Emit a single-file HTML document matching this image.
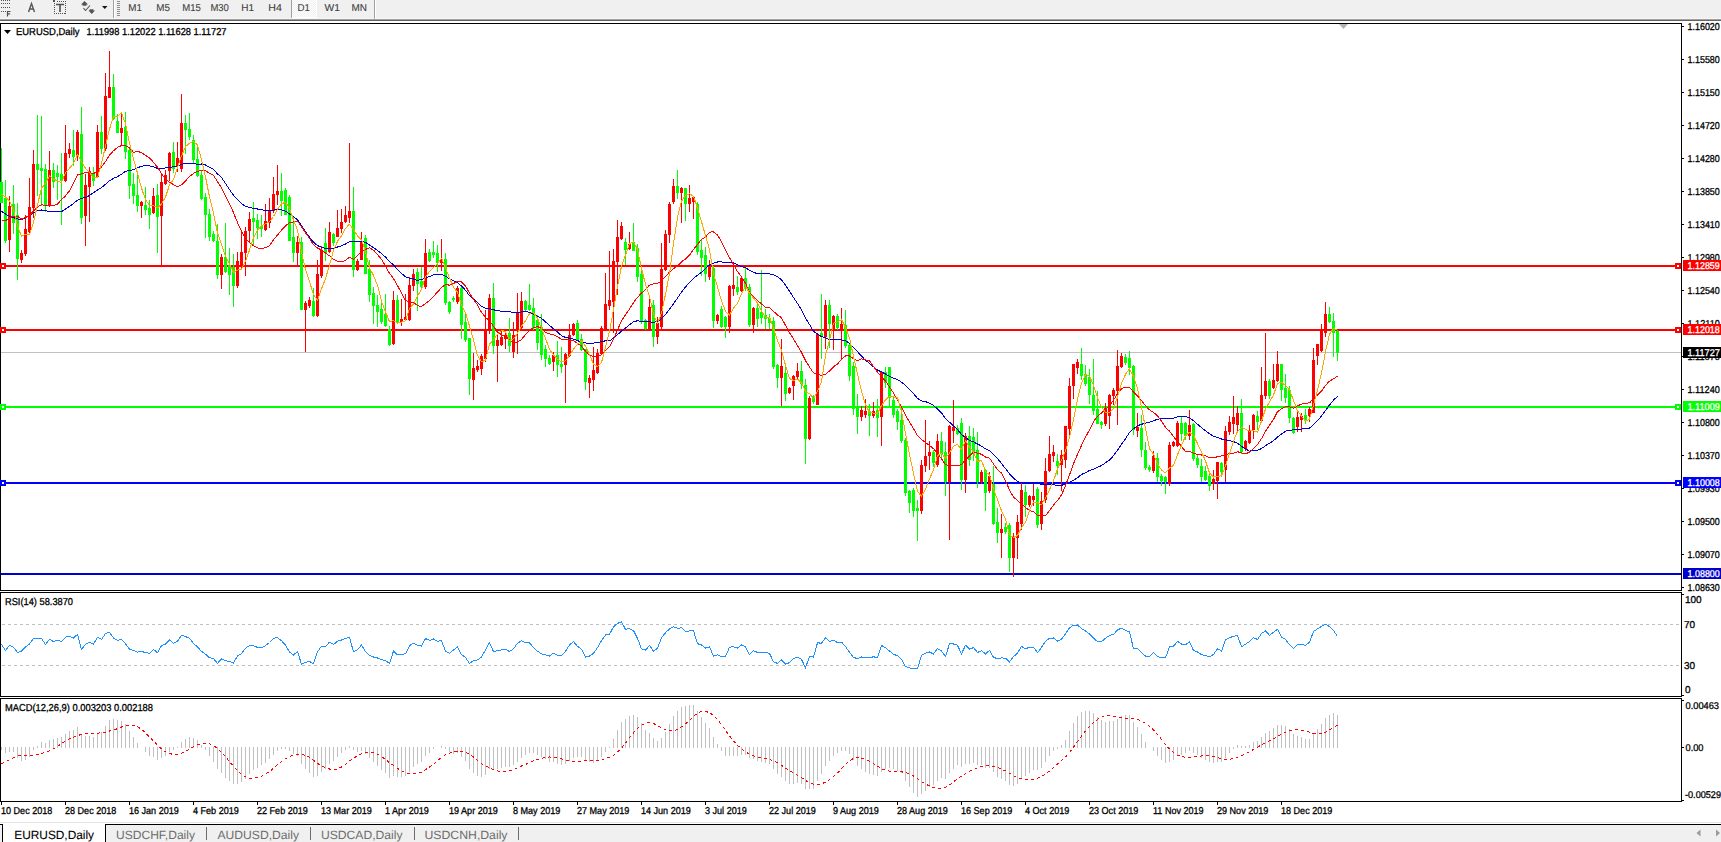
<!DOCTYPE html>
<html><head><meta charset="utf-8"><title>EURUSD,Daily</title>
<style>
html,body{margin:0;padding:0;width:1721px;height:842px;overflow:hidden;background:#fff}
svg{display:block}
text{font-family:"Liberation Sans", sans-serif;text-rendering:geometricPrecision}
</style></head><body>
<svg width="1721" height="842" viewBox="0 0 1721 842">
<rect x="0" y="0" width="1721" height="842" fill="#ffffff" />
<rect x="0" y="0" width="1721" height="18" fill="#f0f0f0" />
<rect x="0" y="18" width="1721" height="1" fill="#f7f7f7" />
<rect x="0" y="19" width="1721" height="1" fill="#a0a0a0" />
<rect x="0" y="20" width="1721" height="1" fill="#646464" />
<rect x="1" y="0" width="1" height="1" fill="#505050" />
<rect x="3" y="0" width="1" height="1" fill="#505050" />
<rect x="5" y="0" width="1" height="1" fill="#505050" />
<rect x="7" y="0" width="1" height="1" fill="#505050" />
<rect x="9" y="0" width="1" height="1" fill="#505050" />
<rect x="1" y="3" width="1" height="1" fill="#505050" />
<rect x="3" y="3" width="1" height="1" fill="#505050" />
<rect x="5" y="3" width="1" height="1" fill="#505050" />
<rect x="7" y="3" width="1" height="1" fill="#505050" />
<rect x="9" y="3" width="1" height="1" fill="#505050" />
<rect x="1" y="7" width="1" height="1" fill="#505050" />
<rect x="3" y="7" width="1" height="1" fill="#505050" />
<rect x="5" y="7" width="1" height="1" fill="#505050" />
<rect x="7" y="7" width="1" height="1" fill="#505050" />
<rect x="9" y="7" width="1" height="1" fill="#505050" />
<rect x="1" y="11" width="1" height="1" fill="#505050" />
<rect x="3" y="11" width="1" height="1" fill="#505050" />
<rect x="5" y="11" width="1" height="1" fill="#505050" />
<path d="M7 11.5h3.5M7.5 11.5v5M7.5 13.8h2.6" stroke="#505050" stroke-width="1.2" fill="none"/>
<path d="M28.5 12L31.5 3.5L34.5 12M29.6 9H33.4" stroke="#555" stroke-width="1.4" fill="none"/>
<rect x="54" y="13" width="1" height="1" fill="#505050" />
<rect x="56" y="13" width="1" height="1" fill="#505050" />
<rect x="58" y="13" width="1" height="1" fill="#505050" />
<rect x="60" y="13" width="1" height="1" fill="#505050" />
<rect x="62" y="13" width="1" height="1" fill="#505050" />
<rect x="64" y="13" width="1" height="1" fill="#505050" />
<rect x="54" y="3" width="1" height="1" fill="#505050" />
<rect x="65" y="3" width="1" height="1" fill="#505050" />
<rect x="54" y="5" width="1" height="1" fill="#505050" />
<rect x="65" y="5" width="1" height="1" fill="#505050" />
<rect x="54" y="7" width="1" height="1" fill="#505050" />
<rect x="65" y="7" width="1" height="1" fill="#505050" />
<rect x="54" y="9" width="1" height="1" fill="#505050" />
<rect x="65" y="9" width="1" height="1" fill="#505050" />
<rect x="54" y="11" width="1" height="1" fill="#505050" />
<rect x="65" y="11" width="1" height="1" fill="#505050" />
<rect x="54" y="13" width="1" height="1" fill="#505050" />
<rect x="65" y="13" width="1" height="1" fill="#505050" />
<rect x="57" y="1" width="1" height="1" fill="#505050" />
<rect x="59" y="1" width="1" height="1" fill="#505050" />
<rect x="61" y="1" width="1" height="1" fill="#505050" />
<rect x="63" y="1" width="1" height="1" fill="#505050" />
<rect x="65" y="1" width="1" height="1" fill="#505050" />
<rect x="53" y="0" width="2" height="2" fill="#505050" />
<path d="M56 4.5h8M60 4.5v7.5" stroke="#505050" stroke-width="1.6" fill="none"/>
<path d="M81 4.6L84.5 1L88 4.6H86.5V5.8H82.5V4.6Z" fill="#555"/>
<path d="M89.6 9.2H93.4V10.4H95L91.8 14L88.4 10.4H89.6Z" fill="#555"/>
<path d="M83.5 8.2L85.5 10.5L90 5.5" stroke="#555" stroke-width="1.1" fill="none"/>
<path d="M102 6H107.5L104.75 9Z" fill="#111"/>
<rect x="113" y="0" width="1" height="18" fill="#a0a0a0" />
<rect x="114" y="0" width="1" height="18" fill="#ffffff" />
<rect x="117" y="1" width="3" height="1" fill="#909090" />
<rect x="117" y="3" width="3" height="1" fill="#909090" />
<rect x="117" y="5" width="3" height="1" fill="#909090" />
<rect x="117" y="7" width="3" height="1" fill="#909090" />
<rect x="117" y="9" width="3" height="1" fill="#909090" />
<rect x="117" y="11" width="3" height="1" fill="#909090" />
<rect x="117" y="13" width="3" height="1" fill="#909090" />
<rect x="117" y="15" width="3" height="1" fill="#909090" />
<defs><pattern id="chk" x="0" y="0" width="2" height="2" patternUnits="userSpaceOnUse"><rect width="2" height="2" fill="#f0f0f0"/><rect width="1" height="1" fill="#ffffff"/><rect x="1" y="1" width="1" height="1" fill="#ffffff"/></pattern></defs>
<g shape-rendering="crispEdges">
<rect x="292" y="0" width="25" height="18" fill="#ffffff" />
<rect x="292" y="0" width="24" height="17" fill="url(#chk)" />
</g>
<rect x="291" y="0" width="1" height="18" fill="#a0a0a0" />
<rect x="374" y="0" width="1" height="19" fill="#a0a0a0" />
<rect x="375" y="0" width="1" height="19" fill="#ffffff" />
<text x="128.2" y="11" font-size="10" fill="#404040" stroke="#404040" stroke-width="0.1" textLength="13.7" lengthAdjust="spacingAndGlyphs" >M1</text>
<text x="156.2" y="11" font-size="10" fill="#404040" stroke="#404040" stroke-width="0.1" textLength="13.7" lengthAdjust="spacingAndGlyphs" >M5</text>
<text x="182.29999999999998" y="11" font-size="10" fill="#404040" stroke="#404040" stroke-width="0.1" textLength="18.6" lengthAdjust="spacingAndGlyphs" >M15</text>
<text x="210.39999999999998" y="11" font-size="10" fill="#404040" stroke="#404040" stroke-width="0.1" textLength="18.5" lengthAdjust="spacingAndGlyphs" >M30</text>
<text x="241.29999999999998" y="11" font-size="10" fill="#404040" stroke="#404040" stroke-width="0.1" textLength="12.8" lengthAdjust="spacingAndGlyphs" >H1</text>
<text x="268.3" y="11" font-size="10" fill="#404040" stroke="#404040" stroke-width="0.1" textLength="13.6" lengthAdjust="spacingAndGlyphs" >H4</text>
<text x="297.5" y="11" font-size="10" fill="#404040" stroke="#404040" stroke-width="0.1" textLength="12.4" lengthAdjust="spacingAndGlyphs" >D1</text>
<text x="324.5" y="11" font-size="10" fill="#404040" stroke="#404040" stroke-width="0.1" textLength="15.4" lengthAdjust="spacingAndGlyphs" >W1</text>
<text x="351.4" y="11" font-size="10" fill="#404040" stroke="#404040" stroke-width="0.1" textLength="15.5" lengthAdjust="spacingAndGlyphs" >MN</text>
<g shape-rendering="crispEdges">
<rect x="0.5" y="23.5" width="1681" height="567" fill="none" stroke="#000"/>
<rect x="0.5" y="592.5" width="1681" height="104" fill="none" stroke="#000"/>
<rect x="0.5" y="698.5" width="1681" height="103" fill="none" stroke="#000"/>
</g>
<path d="M4 30H11L7.5 34Z" fill="#000"/>
<text x="16" y="35" font-size="10" fill="#000" stroke="#000" stroke-width="0.3" textLength="63.5" lengthAdjust="spacingAndGlyphs" >EURUSD,Daily</text>
<text x="86.5" y="35" font-size="10" fill="#000" stroke="#000" stroke-width="0.3" textLength="140" lengthAdjust="spacingAndGlyphs" >1.11998 1.12022 1.11628 1.11727</text>
<g shape-rendering="crispEdges">
<rect x="1682" y="26" width="2" height="1" fill="#000" />
<rect x="1682" y="59" width="2" height="1" fill="#000" />
<rect x="1682" y="92" width="2" height="1" fill="#000" />
<rect x="1682" y="125" width="2" height="1" fill="#000" />
<rect x="1682" y="158" width="2" height="1" fill="#000" />
<rect x="1682" y="191" width="2" height="1" fill="#000" />
<rect x="1682" y="224" width="2" height="1" fill="#000" />
<rect x="1682" y="257" width="2" height="1" fill="#000" />
<rect x="1682" y="290" width="2" height="1" fill="#000" />
<rect x="1682" y="323" width="2" height="1" fill="#000" />
<rect x="1682" y="356" width="2" height="1" fill="#000" />
<rect x="1682" y="389" width="2" height="1" fill="#000" />
<rect x="1682" y="422" width="2" height="1" fill="#000" />
<rect x="1682" y="455" width="2" height="1" fill="#000" />
<rect x="1682" y="488" width="2" height="1" fill="#000" />
<rect x="1682" y="521" width="2" height="1" fill="#000" />
<rect x="1682" y="554" width="2" height="1" fill="#000" />
<rect x="1682" y="587" width="2" height="1" fill="#000" />
</g>
<text x="1687.5" y="30" font-size="10" fill="#000" stroke="#000" stroke-width="0.3" textLength="32.3" lengthAdjust="spacingAndGlyphs" >1.16020</text>
<text x="1687.5" y="63" font-size="10" fill="#000" stroke="#000" stroke-width="0.3" textLength="32.3" lengthAdjust="spacingAndGlyphs" >1.15580</text>
<text x="1687.5" y="96" font-size="10" fill="#000" stroke="#000" stroke-width="0.3" textLength="32.3" lengthAdjust="spacingAndGlyphs" >1.15150</text>
<text x="1687.5" y="129" font-size="10" fill="#000" stroke="#000" stroke-width="0.3" textLength="32.3" lengthAdjust="spacingAndGlyphs" >1.14720</text>
<text x="1687.5" y="162" font-size="10" fill="#000" stroke="#000" stroke-width="0.3" textLength="32.3" lengthAdjust="spacingAndGlyphs" >1.14280</text>
<text x="1687.5" y="195" font-size="10" fill="#000" stroke="#000" stroke-width="0.3" textLength="32.3" lengthAdjust="spacingAndGlyphs" >1.13850</text>
<text x="1687.5" y="228" font-size="10" fill="#000" stroke="#000" stroke-width="0.3" textLength="32.3" lengthAdjust="spacingAndGlyphs" >1.13410</text>
<text x="1687.5" y="261" font-size="10" fill="#000" stroke="#000" stroke-width="0.3" textLength="32.3" lengthAdjust="spacingAndGlyphs" >1.12980</text>
<text x="1687.5" y="294" font-size="10" fill="#000" stroke="#000" stroke-width="0.3" textLength="32.3" lengthAdjust="spacingAndGlyphs" >1.12540</text>
<text x="1687.5" y="327" font-size="10" fill="#000" stroke="#000" stroke-width="0.3" textLength="32.3" lengthAdjust="spacingAndGlyphs" >1.12110</text>
<text x="1687.5" y="360" font-size="10" fill="#000" stroke="#000" stroke-width="0.3" textLength="32.3" lengthAdjust="spacingAndGlyphs" >1.11670</text>
<text x="1687.5" y="393" font-size="10" fill="#000" stroke="#000" stroke-width="0.3" textLength="32.3" lengthAdjust="spacingAndGlyphs" >1.11240</text>
<text x="1687.5" y="426" font-size="10" fill="#000" stroke="#000" stroke-width="0.3" textLength="32.3" lengthAdjust="spacingAndGlyphs" >1.10800</text>
<text x="1687.5" y="459" font-size="10" fill="#000" stroke="#000" stroke-width="0.3" textLength="32.3" lengthAdjust="spacingAndGlyphs" >1.10370</text>
<text x="1687.5" y="492" font-size="10" fill="#000" stroke="#000" stroke-width="0.3" textLength="32.3" lengthAdjust="spacingAndGlyphs" >1.09930</text>
<text x="1687.5" y="525" font-size="10" fill="#000" stroke="#000" stroke-width="0.3" textLength="32.3" lengthAdjust="spacingAndGlyphs" >1.09500</text>
<text x="1687.5" y="558" font-size="10" fill="#000" stroke="#000" stroke-width="0.3" textLength="32.3" lengthAdjust="spacingAndGlyphs" >1.09070</text>
<text x="1687.5" y="591" font-size="10" fill="#000" stroke="#000" stroke-width="0.3" textLength="32.3" lengthAdjust="spacingAndGlyphs" >1.08630</text>
<g shape-rendering="crispEdges">
<rect x="1" y="352" width="1680" height="1" fill="#c0c0c0" />
<rect x="1" y="265" width="1680" height="2" fill="#ff0000" />
<rect x="1" y="329" width="1680" height="2" fill="#ff0000" />
<rect x="1" y="406" width="1680" height="2" fill="#00ff00" />
<rect x="1" y="482" width="1680" height="2" fill="#0000ff" />
<rect x="1" y="573" width="1680" height="2" fill="#0000cd" />
</g>
<g shape-rendering="crispEdges">
<rect x="1" y="148" width="1" height="55" fill="#00ff00" />
<rect x="0" y="182" width="3" height="21" fill="#00ff00" />
<rect x="5" y="180" width="1" height="63" fill="#00ff00" />
<rect x="4" y="198" width="3" height="43" fill="#00ff00" />
<rect x="9" y="196" width="1" height="56" fill="#ff0000" />
<rect x="8" y="206" width="3" height="34" fill="#ff0000" />
<rect x="13" y="185" width="1" height="49" fill="#00ff00" />
<rect x="12" y="204" width="3" height="19" fill="#00ff00" />
<rect x="17" y="203" width="1" height="77" fill="#00ff00" />
<rect x="16" y="215" width="3" height="44" fill="#00ff00" />
<rect x="21" y="250" width="1" height="13" fill="#ff0000" />
<rect x="20" y="253" width="3" height="7" fill="#ff0000" />
<rect x="25" y="215" width="1" height="41" fill="#ff0000" />
<rect x="24" y="229" width="3" height="25" fill="#ff0000" />
<rect x="29" y="178" width="1" height="56" fill="#ff0000" />
<rect x="28" y="207" width="3" height="25" fill="#ff0000" />
<rect x="33" y="150" width="1" height="68" fill="#ff0000" />
<rect x="32" y="164" width="3" height="44" fill="#ff0000" />
<rect x="37" y="115" width="1" height="81" fill="#00ff00" />
<rect x="36" y="164" width="3" height="6" fill="#00ff00" />
<rect x="41" y="116" width="1" height="90" fill="#00ff00" />
<rect x="40" y="168" width="3" height="3" fill="#00ff00" />
<rect x="45" y="164" width="1" height="48" fill="#00ff00" />
<rect x="44" y="169" width="3" height="36" fill="#00ff00" />
<rect x="49" y="151" width="1" height="56" fill="#ff0000" />
<rect x="48" y="170" width="3" height="36" fill="#ff0000" />
<rect x="53" y="163" width="1" height="25" fill="#00ff00" />
<rect x="52" y="170" width="3" height="12" fill="#00ff00" />
<rect x="57" y="165" width="1" height="35" fill="#00ff00" />
<rect x="56" y="173" width="3" height="4" fill="#00ff00" />
<rect x="61" y="153" width="1" height="72" fill="#00ff00" />
<rect x="60" y="174" width="3" height="7" fill="#00ff00" />
<rect x="65" y="125" width="1" height="57" fill="#ff0000" />
<rect x="64" y="153" width="3" height="28" fill="#ff0000" />
<rect x="69" y="143" width="1" height="15" fill="#ff0000" />
<rect x="68" y="149" width="3" height="5" fill="#ff0000" />
<rect x="73" y="130" width="1" height="36" fill="#00ff00" />
<rect x="72" y="150" width="3" height="7" fill="#00ff00" />
<rect x="77" y="130" width="1" height="31" fill="#ff0000" />
<rect x="76" y="132" width="3" height="25" fill="#ff0000" />
<rect x="81" y="107" width="1" height="117" fill="#00ff00" />
<rect x="80" y="134" width="3" height="84" fill="#00ff00" />
<rect x="85" y="174" width="1" height="72" fill="#ff0000" />
<rect x="84" y="185" width="3" height="31" fill="#ff0000" />
<rect x="89" y="167" width="1" height="55" fill="#ff0000" />
<rect x="88" y="171" width="3" height="16" fill="#ff0000" />
<rect x="93" y="167" width="1" height="19" fill="#00ff00" />
<rect x="92" y="174" width="3" height="7" fill="#00ff00" />
<rect x="97" y="125" width="1" height="53" fill="#ff0000" />
<rect x="96" y="132" width="3" height="45" fill="#ff0000" />
<rect x="101" y="116" width="1" height="38" fill="#00ff00" />
<rect x="100" y="132" width="3" height="17" fill="#00ff00" />
<rect x="105" y="73" width="1" height="78" fill="#ff0000" />
<rect x="104" y="96" width="3" height="53" fill="#ff0000" />
<rect x="109" y="51" width="1" height="47" fill="#ff0000" />
<rect x="108" y="87" width="3" height="11" fill="#ff0000" />
<rect x="113" y="74" width="1" height="46" fill="#00ff00" />
<rect x="112" y="87" width="3" height="32" fill="#00ff00" />
<rect x="117" y="114" width="1" height="19" fill="#00ff00" />
<rect x="116" y="121" width="3" height="12" fill="#00ff00" />
<rect x="121" y="113" width="1" height="32" fill="#ff0000" />
<rect x="120" y="128" width="3" height="5" fill="#ff0000" />
<rect x="125" y="112" width="1" height="47" fill="#00ff00" />
<rect x="124" y="127" width="3" height="25" fill="#00ff00" />
<rect x="129" y="149" width="1" height="50" fill="#00ff00" />
<rect x="128" y="150" width="3" height="36" fill="#00ff00" />
<rect x="133" y="173" width="1" height="31" fill="#00ff00" />
<rect x="132" y="184" width="3" height="12" fill="#00ff00" />
<rect x="137" y="175" width="1" height="37" fill="#00ff00" />
<rect x="136" y="195" width="3" height="11" fill="#00ff00" />
<rect x="141" y="201" width="1" height="17" fill="#ff0000" />
<rect x="140" y="202" width="3" height="4" fill="#ff0000" />
<rect x="145" y="187" width="1" height="28" fill="#00ff00" />
<rect x="144" y="205" width="3" height="5" fill="#00ff00" />
<rect x="149" y="200" width="1" height="29" fill="#00ff00" />
<rect x="148" y="208" width="3" height="7" fill="#00ff00" />
<rect x="153" y="188" width="1" height="26" fill="#ff0000" />
<rect x="152" y="196" width="3" height="17" fill="#ff0000" />
<rect x="157" y="184" width="1" height="69" fill="#00ff00" />
<rect x="156" y="195" width="3" height="22" fill="#00ff00" />
<rect x="161" y="173" width="1" height="93" fill="#ff0000" />
<rect x="160" y="182" width="3" height="34" fill="#ff0000" />
<rect x="165" y="170" width="1" height="15" fill="#ff0000" />
<rect x="164" y="175" width="3" height="9" fill="#ff0000" />
<rect x="169" y="152" width="1" height="29" fill="#ff0000" />
<rect x="168" y="153" width="3" height="18" fill="#ff0000" />
<rect x="173" y="142" width="1" height="31" fill="#00ff00" />
<rect x="172" y="152" width="3" height="17" fill="#00ff00" />
<rect x="177" y="142" width="1" height="30" fill="#ff0000" />
<rect x="176" y="158" width="3" height="8" fill="#ff0000" />
<rect x="181" y="94" width="1" height="78" fill="#ff0000" />
<rect x="180" y="123" width="3" height="46" fill="#ff0000" />
<rect x="185" y="115" width="1" height="39" fill="#00ff00" />
<rect x="184" y="123" width="3" height="7" fill="#00ff00" />
<rect x="189" y="113" width="1" height="27" fill="#00ff00" />
<rect x="188" y="129" width="3" height="8" fill="#00ff00" />
<rect x="193" y="135" width="1" height="28" fill="#00ff00" />
<rect x="192" y="140" width="3" height="20" fill="#00ff00" />
<rect x="197" y="144" width="1" height="33" fill="#00ff00" />
<rect x="196" y="159" width="3" height="17" fill="#00ff00" />
<rect x="201" y="171" width="1" height="29" fill="#00ff00" />
<rect x="200" y="175" width="3" height="24" fill="#00ff00" />
<rect x="205" y="193" width="1" height="45" fill="#00ff00" />
<rect x="204" y="197" width="3" height="18" fill="#00ff00" />
<rect x="209" y="209" width="1" height="32" fill="#00ff00" />
<rect x="208" y="214" width="3" height="23" fill="#00ff00" />
<rect x="213" y="231" width="1" height="11" fill="#00ff00" />
<rect x="212" y="234" width="3" height="7" fill="#00ff00" />
<rect x="217" y="224" width="1" height="55" fill="#00ff00" />
<rect x="216" y="241" width="3" height="34" fill="#00ff00" />
<rect x="221" y="254" width="1" height="35" fill="#ff0000" />
<rect x="220" y="257" width="3" height="18" fill="#ff0000" />
<rect x="225" y="223" width="1" height="50" fill="#00ff00" />
<rect x="224" y="257" width="3" height="15" fill="#00ff00" />
<rect x="229" y="248" width="1" height="47" fill="#00ff00" />
<rect x="228" y="265" width="3" height="10" fill="#00ff00" />
<rect x="233" y="254" width="1" height="53" fill="#00ff00" />
<rect x="232" y="267" width="3" height="19" fill="#00ff00" />
<rect x="237" y="252" width="1" height="36" fill="#ff0000" />
<rect x="236" y="261" width="3" height="25" fill="#ff0000" />
<rect x="241" y="230" width="1" height="38" fill="#ff0000" />
<rect x="240" y="252" width="3" height="15" fill="#ff0000" />
<rect x="245" y="227" width="1" height="49" fill="#ff0000" />
<rect x="244" y="231" width="3" height="22" fill="#ff0000" />
<rect x="249" y="212" width="1" height="30" fill="#ff0000" />
<rect x="248" y="219" width="3" height="12" fill="#ff0000" />
<rect x="253" y="202" width="1" height="44" fill="#00ff00" />
<rect x="252" y="218" width="3" height="4" fill="#00ff00" />
<rect x="257" y="214" width="1" height="25" fill="#00ff00" />
<rect x="256" y="220" width="3" height="8" fill="#00ff00" />
<rect x="261" y="215" width="1" height="22" fill="#00ff00" />
<rect x="260" y="226" width="3" height="3" fill="#00ff00" />
<rect x="265" y="204" width="1" height="27" fill="#ff0000" />
<rect x="264" y="221" width="3" height="9" fill="#ff0000" />
<rect x="269" y="198" width="1" height="30" fill="#ff0000" />
<rect x="268" y="210" width="3" height="13" fill="#ff0000" />
<rect x="273" y="177" width="1" height="36" fill="#ff0000" />
<rect x="272" y="194" width="3" height="17" fill="#ff0000" />
<rect x="277" y="165" width="1" height="40" fill="#ff0000" />
<rect x="276" y="191" width="3" height="4" fill="#ff0000" />
<rect x="281" y="173" width="1" height="43" fill="#00ff00" />
<rect x="280" y="191" width="3" height="10" fill="#00ff00" />
<rect x="285" y="188" width="1" height="27" fill="#00ff00" />
<rect x="284" y="190" width="3" height="25" fill="#00ff00" />
<rect x="289" y="195" width="1" height="46" fill="#00ff00" />
<rect x="288" y="197" width="3" height="44" fill="#00ff00" />
<rect x="293" y="217" width="1" height="45" fill="#00ff00" />
<rect x="292" y="237" width="3" height="16" fill="#00ff00" />
<rect x="297" y="236" width="1" height="31" fill="#ff0000" />
<rect x="296" y="242" width="3" height="11" fill="#ff0000" />
<rect x="301" y="237" width="1" height="73" fill="#00ff00" />
<rect x="300" y="242" width="3" height="68" fill="#00ff00" />
<rect x="305" y="301" width="1" height="51" fill="#ff0000" />
<rect x="304" y="303" width="3" height="7" fill="#ff0000" />
<rect x="309" y="297" width="1" height="11" fill="#ff0000" />
<rect x="308" y="300" width="3" height="6" fill="#ff0000" />
<rect x="313" y="288" width="1" height="29" fill="#00ff00" />
<rect x="312" y="301" width="3" height="15" fill="#00ff00" />
<rect x="317" y="260" width="1" height="57" fill="#ff0000" />
<rect x="316" y="274" width="3" height="42" fill="#ff0000" />
<rect x="321" y="246" width="1" height="32" fill="#ff0000" />
<rect x="320" y="250" width="3" height="26" fill="#ff0000" />
<rect x="325" y="228" width="1" height="33" fill="#00ff00" />
<rect x="324" y="243" width="3" height="10" fill="#00ff00" />
<rect x="329" y="222" width="1" height="31" fill="#ff0000" />
<rect x="328" y="232" width="3" height="20" fill="#ff0000" />
<rect x="333" y="233" width="1" height="13" fill="#00ff00" />
<rect x="332" y="234" width="3" height="9" fill="#00ff00" />
<rect x="337" y="210" width="1" height="27" fill="#ff0000" />
<rect x="336" y="228" width="3" height="9" fill="#ff0000" />
<rect x="341" y="209" width="1" height="24" fill="#ff0000" />
<rect x="340" y="222" width="3" height="7" fill="#ff0000" />
<rect x="345" y="206" width="1" height="17" fill="#ff0000" />
<rect x="344" y="215" width="3" height="7" fill="#ff0000" />
<rect x="349" y="143" width="1" height="80" fill="#ff0000" />
<rect x="348" y="211" width="3" height="7" fill="#ff0000" />
<rect x="353" y="187" width="1" height="90" fill="#00ff00" />
<rect x="352" y="211" width="3" height="59" fill="#00ff00" />
<rect x="357" y="259" width="1" height="12" fill="#ff0000" />
<rect x="356" y="261" width="3" height="9" fill="#ff0000" />
<rect x="361" y="232" width="1" height="28" fill="#ff0000" />
<rect x="360" y="241" width="3" height="19" fill="#ff0000" />
<rect x="365" y="235" width="1" height="39" fill="#00ff00" />
<rect x="364" y="238" width="3" height="36" fill="#00ff00" />
<rect x="369" y="260" width="1" height="42" fill="#00ff00" />
<rect x="368" y="269" width="3" height="26" fill="#00ff00" />
<rect x="373" y="287" width="1" height="37" fill="#00ff00" />
<rect x="372" y="293" width="3" height="13" fill="#00ff00" />
<rect x="377" y="295" width="1" height="32" fill="#00ff00" />
<rect x="376" y="305" width="3" height="7" fill="#00ff00" />
<rect x="381" y="301" width="1" height="23" fill="#00ff00" />
<rect x="380" y="309" width="3" height="13" fill="#00ff00" />
<rect x="385" y="294" width="1" height="33" fill="#00ff00" />
<rect x="384" y="314" width="3" height="12" fill="#00ff00" />
<rect x="389" y="326" width="1" height="20" fill="#00ff00" />
<rect x="388" y="329" width="3" height="16" fill="#00ff00" />
<rect x="393" y="291" width="1" height="54" fill="#ff0000" />
<rect x="392" y="300" width="3" height="44" fill="#ff0000" />
<rect x="397" y="295" width="1" height="29" fill="#00ff00" />
<rect x="396" y="300" width="3" height="22" fill="#00ff00" />
<rect x="401" y="299" width="1" height="27" fill="#ff0000" />
<rect x="400" y="319" width="3" height="3" fill="#ff0000" />
<rect x="405" y="294" width="1" height="27" fill="#ff0000" />
<rect x="404" y="317" width="3" height="3" fill="#ff0000" />
<rect x="409" y="277" width="1" height="44" fill="#ff0000" />
<rect x="408" y="285" width="3" height="35" fill="#ff0000" />
<rect x="413" y="269" width="1" height="22" fill="#ff0000" />
<rect x="412" y="274" width="3" height="12" fill="#ff0000" />
<rect x="417" y="268" width="1" height="43" fill="#00ff00" />
<rect x="416" y="272" width="3" height="12" fill="#00ff00" />
<rect x="421" y="267" width="1" height="23" fill="#00ff00" />
<rect x="420" y="281" width="3" height="6" fill="#00ff00" />
<rect x="425" y="239" width="1" height="50" fill="#ff0000" />
<rect x="424" y="253" width="3" height="34" fill="#ff0000" />
<rect x="429" y="249" width="1" height="13" fill="#00ff00" />
<rect x="428" y="252" width="3" height="9" fill="#00ff00" />
<rect x="433" y="241" width="1" height="17" fill="#00ff00" />
<rect x="432" y="252" width="3" height="3" fill="#00ff00" />
<rect x="437" y="245" width="1" height="27" fill="#00ff00" />
<rect x="436" y="253" width="3" height="10" fill="#00ff00" />
<rect x="441" y="239" width="1" height="32" fill="#ff0000" />
<rect x="440" y="259" width="3" height="4" fill="#ff0000" />
<rect x="445" y="253" width="1" height="52" fill="#00ff00" />
<rect x="444" y="259" width="3" height="44" fill="#00ff00" />
<rect x="449" y="301" width="1" height="13" fill="#00ff00" />
<rect x="448" y="302" width="3" height="10" fill="#00ff00" />
<rect x="453" y="296" width="1" height="6" fill="#00ff00" />
<rect x="452" y="298" width="3" height="2" fill="#00ff00" />
<rect x="457" y="286" width="1" height="18" fill="#ff0000" />
<rect x="456" y="288" width="3" height="14" fill="#ff0000" />
<rect x="461" y="287" width="1" height="52" fill="#00ff00" />
<rect x="460" y="288" width="3" height="37" fill="#00ff00" />
<rect x="465" y="314" width="1" height="28" fill="#00ff00" />
<rect x="464" y="322" width="3" height="18" fill="#00ff00" />
<rect x="469" y="338" width="1" height="57" fill="#00ff00" />
<rect x="468" y="338" width="3" height="41" fill="#00ff00" />
<rect x="473" y="353" width="1" height="47" fill="#ff0000" />
<rect x="472" y="368" width="3" height="12" fill="#ff0000" />
<rect x="477" y="360" width="1" height="12" fill="#ff0000" />
<rect x="476" y="366" width="3" height="4" fill="#ff0000" />
<rect x="481" y="354" width="1" height="21" fill="#ff0000" />
<rect x="480" y="356" width="3" height="13" fill="#ff0000" />
<rect x="485" y="310" width="1" height="52" fill="#ff0000" />
<rect x="484" y="330" width="3" height="29" fill="#ff0000" />
<rect x="489" y="294" width="1" height="40" fill="#ff0000" />
<rect x="488" y="298" width="3" height="33" fill="#ff0000" />
<rect x="493" y="283" width="1" height="71" fill="#00ff00" />
<rect x="492" y="298" width="3" height="48" fill="#00ff00" />
<rect x="497" y="335" width="1" height="47" fill="#ff0000" />
<rect x="496" y="340" width="3" height="6" fill="#ff0000" />
<rect x="501" y="331" width="1" height="15" fill="#ff0000" />
<rect x="500" y="337" width="3" height="8" fill="#ff0000" />
<rect x="505" y="333" width="1" height="16" fill="#ff0000" />
<rect x="504" y="335" width="3" height="4" fill="#ff0000" />
<rect x="509" y="318" width="1" height="34" fill="#00ff00" />
<rect x="508" y="333" width="3" height="13" fill="#00ff00" />
<rect x="513" y="322" width="1" height="36" fill="#ff0000" />
<rect x="512" y="335" width="3" height="17" fill="#ff0000" />
<rect x="517" y="293" width="1" height="61" fill="#ff0000" />
<rect x="516" y="312" width="3" height="19" fill="#ff0000" />
<rect x="521" y="292" width="1" height="37" fill="#ff0000" />
<rect x="520" y="301" width="3" height="27" fill="#ff0000" />
<rect x="525" y="300" width="1" height="11" fill="#00ff00" />
<rect x="524" y="301" width="3" height="9" fill="#00ff00" />
<rect x="529" y="284" width="1" height="27" fill="#00ff00" />
<rect x="528" y="305" width="3" height="5" fill="#00ff00" />
<rect x="533" y="298" width="1" height="32" fill="#00ff00" />
<rect x="532" y="308" width="3" height="20" fill="#00ff00" />
<rect x="537" y="315" width="1" height="35" fill="#00ff00" />
<rect x="536" y="320" width="3" height="23" fill="#00ff00" />
<rect x="541" y="314" width="1" height="46" fill="#00ff00" />
<rect x="540" y="327" width="3" height="28" fill="#00ff00" />
<rect x="545" y="345" width="1" height="22" fill="#00ff00" />
<rect x="544" y="349" width="3" height="10" fill="#00ff00" />
<rect x="549" y="355" width="1" height="10" fill="#00ff00" />
<rect x="548" y="358" width="3" height="6" fill="#00ff00" />
<rect x="553" y="352" width="1" height="19" fill="#ff0000" />
<rect x="552" y="355" width="3" height="7" fill="#ff0000" />
<rect x="557" y="341" width="1" height="36" fill="#00ff00" />
<rect x="556" y="355" width="3" height="10" fill="#00ff00" />
<rect x="561" y="347" width="1" height="26" fill="#00ff00" />
<rect x="560" y="364" width="3" height="3" fill="#00ff00" />
<rect x="565" y="353" width="1" height="50" fill="#ff0000" />
<rect x="564" y="354" width="3" height="11" fill="#ff0000" />
<rect x="569" y="324" width="1" height="33" fill="#ff0000" />
<rect x="568" y="335" width="3" height="21" fill="#ff0000" />
<rect x="573" y="323" width="1" height="13" fill="#ff0000" />
<rect x="572" y="324" width="3" height="11" fill="#ff0000" />
<rect x="577" y="320" width="1" height="21" fill="#00ff00" />
<rect x="576" y="323" width="3" height="17" fill="#00ff00" />
<rect x="581" y="334" width="1" height="17" fill="#00ff00" />
<rect x="580" y="339" width="3" height="11" fill="#00ff00" />
<rect x="585" y="349" width="1" height="41" fill="#00ff00" />
<rect x="584" y="349" width="3" height="33" fill="#00ff00" />
<rect x="589" y="375" width="1" height="23" fill="#ff0000" />
<rect x="588" y="378" width="3" height="5" fill="#ff0000" />
<rect x="593" y="347" width="1" height="44" fill="#ff0000" />
<rect x="592" y="370" width="3" height="10" fill="#ff0000" />
<rect x="597" y="349" width="1" height="25" fill="#ff0000" />
<rect x="596" y="353" width="3" height="20" fill="#ff0000" />
<rect x="601" y="326" width="1" height="29" fill="#ff0000" />
<rect x="600" y="328" width="3" height="26" fill="#ff0000" />
<rect x="605" y="273" width="1" height="57" fill="#ff0000" />
<rect x="604" y="304" width="3" height="25" fill="#ff0000" />
<rect x="609" y="251" width="1" height="59" fill="#ff0000" />
<rect x="608" y="300" width="3" height="6" fill="#ff0000" />
<rect x="613" y="249" width="1" height="84" fill="#ff0000" />
<rect x="612" y="261" width="3" height="41" fill="#ff0000" />
<rect x="617" y="220" width="1" height="75" fill="#ff0000" />
<rect x="616" y="237" width="3" height="25" fill="#ff0000" />
<rect x="621" y="222" width="1" height="18" fill="#ff0000" />
<rect x="620" y="226" width="3" height="13" fill="#ff0000" />
<rect x="625" y="238" width="1" height="27" fill="#00ff00" />
<rect x="624" y="242" width="3" height="8" fill="#00ff00" />
<rect x="629" y="232" width="1" height="18" fill="#ff0000" />
<rect x="628" y="244" width="3" height="5" fill="#ff0000" />
<rect x="633" y="223" width="1" height="28" fill="#00ff00" />
<rect x="632" y="242" width="3" height="9" fill="#00ff00" />
<rect x="637" y="244" width="1" height="38" fill="#00ff00" />
<rect x="636" y="248" width="3" height="29" fill="#00ff00" />
<rect x="641" y="269" width="1" height="55" fill="#00ff00" />
<rect x="640" y="274" width="3" height="48" fill="#00ff00" />
<rect x="645" y="319" width="1" height="11" fill="#00ff00" />
<rect x="644" y="320" width="3" height="9" fill="#00ff00" />
<rect x="649" y="299" width="1" height="31" fill="#ff0000" />
<rect x="648" y="307" width="3" height="22" fill="#ff0000" />
<rect x="653" y="300" width="1" height="47" fill="#00ff00" />
<rect x="652" y="305" width="3" height="32" fill="#00ff00" />
<rect x="657" y="317" width="1" height="27" fill="#ff0000" />
<rect x="656" y="323" width="3" height="14" fill="#ff0000" />
<rect x="661" y="243" width="1" height="86" fill="#ff0000" />
<rect x="660" y="269" width="3" height="58" fill="#ff0000" />
<rect x="665" y="230" width="1" height="41" fill="#ff0000" />
<rect x="664" y="234" width="3" height="36" fill="#ff0000" />
<rect x="669" y="202" width="1" height="41" fill="#ff0000" />
<rect x="668" y="204" width="3" height="31" fill="#ff0000" />
<rect x="673" y="179" width="1" height="25" fill="#ff0000" />
<rect x="672" y="186" width="3" height="16" fill="#ff0000" />
<rect x="677" y="170" width="1" height="29" fill="#00ff00" />
<rect x="676" y="186" width="3" height="7" fill="#00ff00" />
<rect x="681" y="187" width="1" height="36" fill="#ff0000" />
<rect x="680" y="188" width="3" height="5" fill="#ff0000" />
<rect x="685" y="188" width="1" height="33" fill="#00ff00" />
<rect x="684" y="188" width="3" height="16" fill="#00ff00" />
<rect x="689" y="185" width="1" height="27" fill="#ff0000" />
<rect x="688" y="198" width="3" height="6" fill="#ff0000" />
<rect x="693" y="196" width="1" height="23" fill="#ff0000" />
<rect x="692" y="197" width="3" height="5" fill="#ff0000" />
<rect x="697" y="202" width="1" height="53" fill="#00ff00" />
<rect x="696" y="204" width="3" height="48" fill="#00ff00" />
<rect x="701" y="240" width="1" height="36" fill="#00ff00" />
<rect x="700" y="250" width="3" height="8" fill="#00ff00" />
<rect x="705" y="247" width="1" height="35" fill="#00ff00" />
<rect x="704" y="255" width="3" height="19" fill="#00ff00" />
<rect x="709" y="260" width="1" height="20" fill="#ff0000" />
<rect x="708" y="267" width="3" height="10" fill="#ff0000" />
<rect x="713" y="266" width="1" height="62" fill="#00ff00" />
<rect x="712" y="268" width="3" height="53" fill="#00ff00" />
<rect x="717" y="314" width="1" height="10" fill="#ff0000" />
<rect x="716" y="315" width="3" height="6" fill="#ff0000" />
<rect x="721" y="306" width="1" height="22" fill="#00ff00" />
<rect x="720" y="309" width="3" height="18" fill="#00ff00" />
<rect x="725" y="316" width="1" height="22" fill="#00ff00" />
<rect x="724" y="317" width="3" height="10" fill="#00ff00" />
<rect x="729" y="285" width="1" height="48" fill="#ff0000" />
<rect x="728" y="286" width="3" height="41" fill="#ff0000" />
<rect x="733" y="265" width="1" height="31" fill="#ff0000" />
<rect x="732" y="285" width="3" height="4" fill="#ff0000" />
<rect x="737" y="276" width="1" height="19" fill="#00ff00" />
<rect x="736" y="287" width="3" height="5" fill="#00ff00" />
<rect x="741" y="276" width="1" height="16" fill="#ff0000" />
<rect x="740" y="278" width="3" height="13" fill="#ff0000" />
<rect x="745" y="268" width="1" height="23" fill="#00ff00" />
<rect x="744" y="278" width="3" height="9" fill="#00ff00" />
<rect x="749" y="284" width="1" height="43" fill="#00ff00" />
<rect x="748" y="287" width="3" height="38" fill="#00ff00" />
<rect x="753" y="307" width="1" height="26" fill="#ff0000" />
<rect x="752" y="308" width="3" height="17" fill="#ff0000" />
<rect x="757" y="303" width="1" height="24" fill="#00ff00" />
<rect x="756" y="308" width="3" height="11" fill="#00ff00" />
<rect x="761" y="270" width="1" height="54" fill="#00ff00" />
<rect x="760" y="312" width="3" height="6" fill="#00ff00" />
<rect x="765" y="309" width="1" height="20" fill="#00ff00" />
<rect x="764" y="315" width="3" height="4" fill="#00ff00" />
<rect x="769" y="314" width="1" height="15" fill="#00ff00" />
<rect x="768" y="318" width="3" height="5" fill="#00ff00" />
<rect x="773" y="317" width="1" height="52" fill="#00ff00" />
<rect x="772" y="321" width="3" height="46" fill="#00ff00" />
<rect x="777" y="364" width="1" height="24" fill="#00ff00" />
<rect x="776" y="365" width="3" height="13" fill="#00ff00" />
<rect x="781" y="339" width="1" height="67" fill="#ff0000" />
<rect x="780" y="366" width="3" height="12" fill="#ff0000" />
<rect x="785" y="367" width="1" height="34" fill="#00ff00" />
<rect x="784" y="373" width="3" height="21" fill="#00ff00" />
<rect x="789" y="387" width="1" height="7" fill="#ff0000" />
<rect x="788" y="388" width="3" height="5" fill="#ff0000" />
<rect x="793" y="375" width="1" height="25" fill="#ff0000" />
<rect x="792" y="376" width="3" height="10" fill="#ff0000" />
<rect x="797" y="363" width="1" height="17" fill="#ff0000" />
<rect x="796" y="371" width="3" height="6" fill="#ff0000" />
<rect x="801" y="361" width="1" height="28" fill="#00ff00" />
<rect x="800" y="371" width="3" height="13" fill="#00ff00" />
<rect x="805" y="379" width="1" height="85" fill="#00ff00" />
<rect x="804" y="385" width="3" height="54" fill="#00ff00" />
<rect x="809" y="396" width="1" height="44" fill="#ff0000" />
<rect x="808" y="398" width="3" height="41" fill="#ff0000" />
<rect x="813" y="395" width="1" height="9" fill="#00ff00" />
<rect x="812" y="396" width="3" height="6" fill="#00ff00" />
<rect x="817" y="333" width="1" height="72" fill="#ff0000" />
<rect x="816" y="334" width="3" height="71" fill="#ff0000" />
<rect x="821" y="294" width="1" height="65" fill="#00ff00" />
<rect x="820" y="333" width="3" height="4" fill="#00ff00" />
<rect x="825" y="300" width="1" height="49" fill="#ff0000" />
<rect x="824" y="305" width="3" height="32" fill="#ff0000" />
<rect x="829" y="300" width="1" height="48" fill="#00ff00" />
<rect x="828" y="305" width="3" height="19" fill="#00ff00" />
<rect x="833" y="315" width="1" height="35" fill="#ff0000" />
<rect x="832" y="316" width="3" height="14" fill="#ff0000" />
<rect x="837" y="314" width="1" height="16" fill="#00ff00" />
<rect x="836" y="316" width="3" height="12" fill="#00ff00" />
<rect x="841" y="308" width="1" height="50" fill="#ff0000" />
<rect x="840" y="324" width="3" height="6" fill="#ff0000" />
<rect x="845" y="310" width="1" height="38" fill="#00ff00" />
<rect x="844" y="325" width="3" height="21" fill="#00ff00" />
<rect x="849" y="343" width="1" height="38" fill="#00ff00" />
<rect x="848" y="345" width="3" height="31" fill="#00ff00" />
<rect x="853" y="362" width="1" height="53" fill="#00ff00" />
<rect x="852" y="366" width="3" height="43" fill="#00ff00" />
<rect x="857" y="394" width="1" height="40" fill="#00ff00" />
<rect x="856" y="406" width="3" height="11" fill="#00ff00" />
<rect x="861" y="406" width="1" height="15" fill="#ff0000" />
<rect x="860" y="410" width="3" height="7" fill="#ff0000" />
<rect x="865" y="399" width="1" height="19" fill="#ff0000" />
<rect x="864" y="411" width="3" height="4" fill="#ff0000" />
<rect x="869" y="404" width="1" height="32" fill="#00ff00" />
<rect x="868" y="411" width="3" height="5" fill="#00ff00" />
<rect x="873" y="402" width="1" height="16" fill="#ff0000" />
<rect x="872" y="411" width="3" height="5" fill="#ff0000" />
<rect x="877" y="399" width="1" height="38" fill="#00ff00" />
<rect x="876" y="410" width="3" height="8" fill="#00ff00" />
<rect x="881" y="371" width="1" height="75" fill="#ff0000" />
<rect x="880" y="372" width="3" height="45" fill="#ff0000" />
<rect x="885" y="367" width="1" height="21" fill="#00ff00" />
<rect x="884" y="372" width="3" height="11" fill="#00ff00" />
<rect x="889" y="367" width="1" height="39" fill="#00ff00" />
<rect x="888" y="367" width="3" height="31" fill="#00ff00" />
<rect x="893" y="397" width="1" height="21" fill="#00ff00" />
<rect x="892" y="400" width="3" height="15" fill="#00ff00" />
<rect x="897" y="409" width="1" height="21" fill="#00ff00" />
<rect x="896" y="411" width="3" height="11" fill="#00ff00" />
<rect x="901" y="407" width="1" height="36" fill="#00ff00" />
<rect x="900" y="420" width="3" height="21" fill="#00ff00" />
<rect x="905" y="438" width="1" height="58" fill="#00ff00" />
<rect x="904" y="440" width="3" height="53" fill="#00ff00" />
<rect x="909" y="490" width="1" height="23" fill="#00ff00" />
<rect x="908" y="491" width="3" height="12" fill="#00ff00" />
<rect x="913" y="488" width="1" height="29" fill="#00ff00" />
<rect x="912" y="490" width="3" height="21" fill="#00ff00" />
<rect x="917" y="500" width="1" height="41" fill="#00ff00" />
<rect x="916" y="508" width="3" height="3" fill="#00ff00" />
<rect x="921" y="460" width="1" height="54" fill="#ff0000" />
<rect x="920" y="465" width="3" height="46" fill="#ff0000" />
<rect x="925" y="420" width="1" height="52" fill="#ff0000" />
<rect x="924" y="456" width="3" height="10" fill="#ff0000" />
<rect x="929" y="441" width="1" height="29" fill="#ff0000" />
<rect x="928" y="452" width="3" height="4" fill="#ff0000" />
<rect x="933" y="450" width="1" height="17" fill="#00ff00" />
<rect x="932" y="452" width="3" height="11" fill="#00ff00" />
<rect x="937" y="434" width="1" height="33" fill="#ff0000" />
<rect x="936" y="441" width="3" height="24" fill="#ff0000" />
<rect x="941" y="432" width="1" height="27" fill="#00ff00" />
<rect x="940" y="441" width="3" height="13" fill="#00ff00" />
<rect x="945" y="442" width="1" height="54" fill="#00ff00" />
<rect x="944" y="452" width="3" height="30" fill="#00ff00" />
<rect x="949" y="425" width="1" height="115" fill="#ff0000" />
<rect x="948" y="426" width="3" height="56" fill="#ff0000" />
<rect x="953" y="400" width="1" height="43" fill="#ff0000" />
<rect x="952" y="427" width="3" height="4" fill="#ff0000" />
<rect x="957" y="425" width="1" height="10" fill="#00ff00" />
<rect x="956" y="428" width="3" height="6" fill="#00ff00" />
<rect x="961" y="418" width="1" height="72" fill="#00ff00" />
<rect x="960" y="423" width="3" height="57" fill="#00ff00" />
<rect x="965" y="433" width="1" height="60" fill="#ff0000" />
<rect x="964" y="436" width="3" height="44" fill="#ff0000" />
<rect x="969" y="426" width="1" height="40" fill="#00ff00" />
<rect x="968" y="436" width="3" height="24" fill="#00ff00" />
<rect x="973" y="428" width="1" height="33" fill="#00ff00" />
<rect x="972" y="437" width="3" height="15" fill="#00ff00" />
<rect x="977" y="432" width="1" height="56" fill="#00ff00" />
<rect x="976" y="450" width="3" height="32" fill="#00ff00" />
<rect x="981" y="470" width="1" height="14" fill="#ff0000" />
<rect x="980" y="472" width="3" height="10" fill="#ff0000" />
<rect x="985" y="469" width="1" height="42" fill="#00ff00" />
<rect x="984" y="470" width="3" height="23" fill="#00ff00" />
<rect x="989" y="472" width="1" height="21" fill="#ff0000" />
<rect x="988" y="476" width="3" height="15" fill="#ff0000" />
<rect x="993" y="466" width="1" height="59" fill="#00ff00" />
<rect x="992" y="484" width="3" height="40" fill="#00ff00" />
<rect x="997" y="508" width="1" height="35" fill="#00ff00" />
<rect x="996" y="522" width="3" height="11" fill="#00ff00" />
<rect x="1001" y="514" width="1" height="44" fill="#ff0000" />
<rect x="1000" y="529" width="3" height="4" fill="#ff0000" />
<rect x="1005" y="523" width="1" height="11" fill="#00ff00" />
<rect x="1004" y="527" width="3" height="5" fill="#00ff00" />
<rect x="1009" y="523" width="1" height="49" fill="#00ff00" />
<rect x="1008" y="525" width="3" height="33" fill="#00ff00" />
<rect x="1013" y="533" width="1" height="44" fill="#ff0000" />
<rect x="1012" y="536" width="3" height="22" fill="#ff0000" />
<rect x="1017" y="515" width="1" height="44" fill="#ff0000" />
<rect x="1016" y="522" width="3" height="16" fill="#ff0000" />
<rect x="1021" y="483" width="1" height="47" fill="#ff0000" />
<rect x="1020" y="490" width="3" height="34" fill="#ff0000" />
<rect x="1025" y="485" width="1" height="32" fill="#00ff00" />
<rect x="1024" y="492" width="3" height="13" fill="#00ff00" />
<rect x="1029" y="495" width="1" height="12" fill="#ff0000" />
<rect x="1028" y="496" width="3" height="9" fill="#ff0000" />
<rect x="1033" y="484" width="1" height="22" fill="#ff0000" />
<rect x="1032" y="496" width="3" height="4" fill="#ff0000" />
<rect x="1037" y="487" width="1" height="41" fill="#00ff00" />
<rect x="1036" y="489" width="3" height="36" fill="#00ff00" />
<rect x="1041" y="492" width="1" height="38" fill="#ff0000" />
<rect x="1040" y="501" width="3" height="23" fill="#ff0000" />
<rect x="1045" y="458" width="1" height="45" fill="#ff0000" />
<rect x="1044" y="471" width="3" height="29" fill="#ff0000" />
<rect x="1049" y="436" width="1" height="36" fill="#ff0000" />
<rect x="1048" y="454" width="3" height="17" fill="#ff0000" />
<rect x="1053" y="445" width="1" height="17" fill="#ff0000" />
<rect x="1052" y="452" width="3" height="4" fill="#ff0000" />
<rect x="1057" y="454" width="1" height="21" fill="#00ff00" />
<rect x="1056" y="461" width="3" height="5" fill="#00ff00" />
<rect x="1061" y="450" width="1" height="41" fill="#ff0000" />
<rect x="1060" y="455" width="3" height="10" fill="#ff0000" />
<rect x="1065" y="426" width="1" height="42" fill="#ff0000" />
<rect x="1064" y="426" width="3" height="34" fill="#ff0000" />
<rect x="1069" y="378" width="1" height="58" fill="#ff0000" />
<rect x="1068" y="386" width="3" height="43" fill="#ff0000" />
<rect x="1073" y="364" width="1" height="35" fill="#ff0000" />
<rect x="1072" y="364" width="3" height="22" fill="#ff0000" />
<rect x="1077" y="359" width="1" height="15" fill="#ff0000" />
<rect x="1076" y="362" width="3" height="6" fill="#ff0000" />
<rect x="1081" y="348" width="1" height="32" fill="#00ff00" />
<rect x="1080" y="364" width="3" height="12" fill="#00ff00" />
<rect x="1085" y="365" width="1" height="21" fill="#00ff00" />
<rect x="1084" y="374" width="3" height="10" fill="#00ff00" />
<rect x="1089" y="369" width="1" height="35" fill="#00ff00" />
<rect x="1088" y="377" width="3" height="18" fill="#00ff00" />
<rect x="1093" y="359" width="1" height="56" fill="#00ff00" />
<rect x="1092" y="395" width="3" height="16" fill="#00ff00" />
<rect x="1097" y="391" width="1" height="33" fill="#00ff00" />
<rect x="1096" y="409" width="3" height="15" fill="#00ff00" />
<rect x="1101" y="421" width="1" height="8" fill="#00ff00" />
<rect x="1100" y="422" width="3" height="3" fill="#00ff00" />
<rect x="1105" y="403" width="1" height="23" fill="#ff0000" />
<rect x="1104" y="408" width="3" height="16" fill="#ff0000" />
<rect x="1109" y="394" width="1" height="35" fill="#ff0000" />
<rect x="1108" y="395" width="3" height="21" fill="#ff0000" />
<rect x="1113" y="388" width="1" height="17" fill="#ff0000" />
<rect x="1112" y="390" width="3" height="6" fill="#ff0000" />
<rect x="1117" y="350" width="1" height="75" fill="#ff0000" />
<rect x="1116" y="366" width="3" height="25" fill="#ff0000" />
<rect x="1121" y="353" width="1" height="15" fill="#ff0000" />
<rect x="1120" y="356" width="3" height="11" fill="#ff0000" />
<rect x="1125" y="354" width="1" height="11" fill="#00ff00" />
<rect x="1124" y="357" width="3" height="6" fill="#00ff00" />
<rect x="1129" y="351" width="1" height="24" fill="#00ff00" />
<rect x="1128" y="358" width="3" height="10" fill="#00ff00" />
<rect x="1133" y="365" width="1" height="70" fill="#00ff00" />
<rect x="1132" y="366" width="3" height="64" fill="#00ff00" />
<rect x="1137" y="413" width="1" height="24" fill="#ff0000" />
<rect x="1136" y="427" width="3" height="4" fill="#ff0000" />
<rect x="1141" y="415" width="1" height="42" fill="#00ff00" />
<rect x="1140" y="428" width="3" height="22" fill="#00ff00" />
<rect x="1145" y="442" width="1" height="28" fill="#00ff00" />
<rect x="1144" y="450" width="3" height="18" fill="#00ff00" />
<rect x="1149" y="465" width="1" height="7" fill="#00ff00" />
<rect x="1148" y="467" width="3" height="3" fill="#00ff00" />
<rect x="1153" y="451" width="1" height="22" fill="#ff0000" />
<rect x="1152" y="456" width="3" height="15" fill="#ff0000" />
<rect x="1157" y="453" width="1" height="29" fill="#00ff00" />
<rect x="1156" y="458" width="3" height="19" fill="#00ff00" />
<rect x="1161" y="474" width="1" height="12" fill="#00ff00" />
<rect x="1160" y="476" width="3" height="5" fill="#00ff00" />
<rect x="1165" y="476" width="1" height="18" fill="#00ff00" />
<rect x="1164" y="477" width="3" height="5" fill="#00ff00" />
<rect x="1169" y="442" width="1" height="44" fill="#ff0000" />
<rect x="1168" y="445" width="3" height="39" fill="#ff0000" />
<rect x="1173" y="441" width="1" height="6" fill="#ff0000" />
<rect x="1172" y="442" width="3" height="4" fill="#ff0000" />
<rect x="1177" y="421" width="1" height="26" fill="#ff0000" />
<rect x="1176" y="423" width="3" height="23" fill="#ff0000" />
<rect x="1181" y="416" width="1" height="25" fill="#00ff00" />
<rect x="1180" y="423" width="3" height="11" fill="#00ff00" />
<rect x="1185" y="422" width="1" height="18" fill="#00ff00" />
<rect x="1184" y="423" width="3" height="13" fill="#00ff00" />
<rect x="1189" y="410" width="1" height="30" fill="#ff0000" />
<rect x="1188" y="425" width="3" height="11" fill="#ff0000" />
<rect x="1193" y="423" width="1" height="38" fill="#00ff00" />
<rect x="1192" y="424" width="3" height="35" fill="#00ff00" />
<rect x="1197" y="455" width="1" height="13" fill="#00ff00" />
<rect x="1196" y="458" width="3" height="7" fill="#00ff00" />
<rect x="1201" y="459" width="1" height="23" fill="#00ff00" />
<rect x="1200" y="466" width="3" height="11" fill="#00ff00" />
<rect x="1205" y="466" width="1" height="15" fill="#00ff00" />
<rect x="1204" y="471" width="3" height="9" fill="#00ff00" />
<rect x="1209" y="471" width="1" height="20" fill="#00ff00" />
<rect x="1208" y="476" width="3" height="10" fill="#00ff00" />
<rect x="1213" y="470" width="1" height="20" fill="#ff0000" />
<rect x="1212" y="479" width="3" height="5" fill="#ff0000" />
<rect x="1217" y="462" width="1" height="37" fill="#ff0000" />
<rect x="1216" y="462" width="3" height="19" fill="#ff0000" />
<rect x="1221" y="462" width="1" height="15" fill="#00ff00" />
<rect x="1220" y="463" width="3" height="9" fill="#00ff00" />
<rect x="1225" y="426" width="1" height="56" fill="#ff0000" />
<rect x="1224" y="431" width="3" height="39" fill="#ff0000" />
<rect x="1229" y="416" width="1" height="19" fill="#ff0000" />
<rect x="1228" y="422" width="3" height="10" fill="#ff0000" />
<rect x="1233" y="396" width="1" height="38" fill="#ff0000" />
<rect x="1232" y="417" width="3" height="7" fill="#ff0000" />
<rect x="1237" y="406" width="1" height="27" fill="#ff0000" />
<rect x="1236" y="413" width="3" height="12" fill="#ff0000" />
<rect x="1241" y="399" width="1" height="55" fill="#00ff00" />
<rect x="1240" y="413" width="3" height="39" fill="#00ff00" />
<rect x="1245" y="440" width="1" height="11" fill="#ff0000" />
<rect x="1244" y="441" width="3" height="8" fill="#ff0000" />
<rect x="1249" y="425" width="1" height="19" fill="#ff0000" />
<rect x="1248" y="431" width="3" height="12" fill="#ff0000" />
<rect x="1253" y="414" width="1" height="25" fill="#ff0000" />
<rect x="1252" y="415" width="3" height="15" fill="#ff0000" />
<rect x="1257" y="411" width="1" height="19" fill="#00ff00" />
<rect x="1256" y="416" width="3" height="6" fill="#00ff00" />
<rect x="1261" y="367" width="1" height="55" fill="#ff0000" />
<rect x="1260" y="395" width="3" height="26" fill="#ff0000" />
<rect x="1265" y="333" width="1" height="66" fill="#ff0000" />
<rect x="1264" y="381" width="3" height="15" fill="#ff0000" />
<rect x="1269" y="379" width="1" height="20" fill="#00ff00" />
<rect x="1268" y="381" width="3" height="15" fill="#00ff00" />
<rect x="1273" y="364" width="1" height="25" fill="#ff0000" />
<rect x="1272" y="380" width="3" height="8" fill="#ff0000" />
<rect x="1277" y="351" width="1" height="31" fill="#ff0000" />
<rect x="1276" y="364" width="3" height="17" fill="#ff0000" />
<rect x="1281" y="364" width="1" height="37" fill="#00ff00" />
<rect x="1280" y="364" width="3" height="26" fill="#00ff00" />
<rect x="1285" y="374" width="1" height="29" fill="#00ff00" />
<rect x="1284" y="388" width="3" height="10" fill="#00ff00" />
<rect x="1289" y="386" width="1" height="37" fill="#00ff00" />
<rect x="1288" y="390" width="3" height="28" fill="#00ff00" />
<rect x="1293" y="417" width="1" height="17" fill="#00ff00" />
<rect x="1292" y="418" width="3" height="15" fill="#00ff00" />
<rect x="1297" y="411" width="1" height="21" fill="#ff0000" />
<rect x="1296" y="417" width="3" height="10" fill="#ff0000" />
<rect x="1301" y="413" width="1" height="19" fill="#ff0000" />
<rect x="1300" y="416" width="3" height="4" fill="#ff0000" />
<rect x="1305" y="409" width="1" height="15" fill="#00ff00" />
<rect x="1304" y="415" width="3" height="6" fill="#00ff00" />
<rect x="1309" y="407" width="1" height="15" fill="#ff0000" />
<rect x="1308" y="409" width="3" height="7" fill="#ff0000" />
<rect x="1313" y="348" width="1" height="65" fill="#ff0000" />
<rect x="1312" y="360" width="3" height="53" fill="#ff0000" />
<rect x="1317" y="344" width="1" height="21" fill="#ff0000" />
<rect x="1316" y="344" width="3" height="12" fill="#ff0000" />
<rect x="1321" y="324" width="1" height="28" fill="#ff0000" />
<rect x="1320" y="329" width="3" height="22" fill="#ff0000" />
<rect x="1325" y="302" width="1" height="35" fill="#ff0000" />
<rect x="1324" y="314" width="3" height="19" fill="#ff0000" />
<rect x="1329" y="307" width="1" height="16" fill="#00ff00" />
<rect x="1328" y="314" width="3" height="8" fill="#00ff00" />
<rect x="1333" y="313" width="1" height="44" fill="#00ff00" />
<rect x="1332" y="321" width="3" height="12" fill="#00ff00" />
<rect x="1337" y="330" width="1" height="31" fill="#00ff00" />
<rect x="1336" y="331" width="3" height="22" fill="#00ff00" />
</g>
<svg x="1" y="24" width="1680" height="566" viewBox="1 24 1680 566" overflow="hidden">
<polyline points="1.5,211.4 5.5,214.0 9.5,216.5 13.5,217.7 17.5,218.9 21.5,219.9 25.5,217.6 29.5,215.3 33.5,212.7 37.5,210.4 41.5,210.0 45.5,210.7 49.5,211.7 53.5,211.7 57.5,211.7 61.5,211.7 65.5,209.1 69.5,206.4 73.5,203.4 77.5,200.2 81.5,198.2 85.5,197.7 89.5,195.5 93.5,192.6 97.5,190.0 101.5,187.6 105.5,184.3 109.5,180.8 113.5,178.3 117.5,176.7 121.5,174.3 125.5,171.3 129.5,170.6 133.5,169.7 137.5,167.9 141.5,166.2 145.5,165.6 149.5,165.8 153.5,166.9 157.5,168.4 161.5,168.8 165.5,167.9 169.5,167.3 173.5,166.9 177.5,166.3 181.5,164.4 185.5,163.6 189.5,163.1 193.5,163.2 197.5,164.7 201.5,164.0 205.5,165.0 209.5,167.2 213.5,169.2 217.5,173.9 221.5,177.5 225.5,183.4 229.5,189.6 233.5,195.2 237.5,199.5 241.5,203.6 245.5,206.3 249.5,207.4 253.5,208.3 257.5,209.0 261.5,209.9 265.5,210.3 269.5,210.1 273.5,210.1 277.5,209.2 281.5,209.8 285.5,211.1 289.5,214.0 293.5,216.8 297.5,219.6 301.5,225.8 305.5,231.6 309.5,237.1 313.5,242.3 317.5,245.6 321.5,247.3 325.5,248.6 329.5,248.5 333.5,248.5 337.5,247.0 341.5,245.8 345.5,244.0 349.5,241.9 353.5,241.3 357.5,241.3 361.5,241.0 365.5,242.4 369.5,244.9 373.5,247.7 377.5,250.5 381.5,253.6 385.5,257.0 389.5,261.5 393.5,265.0 397.5,269.4 401.5,273.3 405.5,276.8 409.5,278.3 413.5,279.0 417.5,280.4 421.5,279.6 425.5,277.9 429.5,276.6 433.5,274.6 437.5,274.2 441.5,274.5 445.5,276.1 449.5,278.8 453.5,280.7 457.5,282.7 461.5,286.1 465.5,290.2 469.5,295.8 473.5,299.1 477.5,302.6 481.5,306.4 485.5,308.3 489.5,308.4 493.5,309.8 497.5,310.7 501.5,311.3 505.5,311.6 509.5,311.6 513.5,312.8 517.5,312.5 521.5,311.9 525.5,311.6 529.5,312.4 533.5,314.2 537.5,316.2 541.5,318.4 545.5,321.9 549.5,325.4 553.5,328.7 557.5,332.1 561.5,335.7 565.5,337.4 569.5,338.2 573.5,339.1 577.5,340.8 581.5,341.6 585.5,343.0 589.5,343.0 593.5,343.1 597.5,342.6 601.5,341.7 605.5,340.8 609.5,340.9 613.5,338.1 617.5,334.7 621.5,331.0 625.5,328.1 629.5,324.7 633.5,321.9 637.5,320.7 641.5,321.4 645.5,322.0 649.5,321.9 653.5,322.2 657.5,321.6 661.5,318.8 665.5,314.6 669.5,309.3 673.5,303.7 677.5,298.0 681.5,292.0 685.5,287.0 689.5,282.4 693.5,278.2 697.5,275.3 701.5,272.2 705.5,268.6 709.5,264.9 713.5,263.2 717.5,262.0 721.5,261.9 725.5,262.6 729.5,262.2 733.5,263.0 737.5,264.8 741.5,266.5 745.5,267.7 749.5,270.4 753.5,272.3 757.5,273.7 761.5,273.6 765.5,273.3 769.5,273.8 773.5,274.8 777.5,276.6 781.5,279.8 785.5,285.1 789.5,291.2 793.5,297.6 797.5,303.5 801.5,310.0 805.5,317.9 809.5,324.5 813.5,331.3 817.5,334.1 821.5,336.7 825.5,337.8 829.5,339.7 833.5,339.5 837.5,339.9 841.5,339.9 845.5,340.5 849.5,343.5 853.5,347.6 857.5,351.7 861.5,356.1 865.5,360.3 869.5,363.3 873.5,366.8 877.5,370.1 881.5,371.9 885.5,374.0 889.5,376.5 893.5,378.1 897.5,379.6 901.5,382.1 905.5,385.4 909.5,389.2 913.5,393.6 917.5,398.3 921.5,401.0 925.5,401.6 929.5,403.4 933.5,405.4 937.5,409.0 941.5,412.9 945.5,418.8 949.5,422.2 953.5,425.9 957.5,429.4 961.5,434.6 965.5,437.6 969.5,440.4 973.5,441.9 977.5,444.0 981.5,446.1 985.5,448.8 989.5,450.8 993.5,454.6 997.5,458.4 1001.5,463.6 1005.5,468.6 1009.5,473.9 1013.5,478.0 1017.5,481.4 1021.5,483.0 1025.5,483.4 1029.5,483.2 1033.5,482.8 1037.5,483.2 1041.5,484.4 1045.5,484.9 1049.5,485.0 1053.5,484.7 1057.5,485.5 1061.5,485.5 1065.5,483.7 1069.5,482.4 1073.5,480.3 1077.5,477.9 1081.5,474.4 1085.5,472.7 1089.5,470.5 1093.5,469.1 1097.5,467.2 1101.5,465.6 1105.5,462.8 1109.5,460.1 1113.5,455.7 1117.5,450.1 1121.5,444.4 1125.5,438.7 1129.5,432.4 1133.5,428.8 1137.5,425.7 1141.5,424.3 1145.5,423.1 1149.5,422.2 1153.5,420.8 1157.5,419.2 1161.5,418.5 1165.5,418.9 1169.5,418.6 1173.5,418.2 1177.5,416.8 1181.5,416.1 1185.5,416.4 1189.5,417.7 1193.5,420.8 1197.5,424.2 1201.5,427.6 1205.5,430.8 1209.5,433.8 1213.5,436.1 1217.5,437.4 1221.5,439.0 1225.5,439.8 1229.5,440.7 1233.5,441.6 1237.5,443.1 1241.5,446.3 1245.5,448.9 1249.5,451.1 1253.5,450.6 1257.5,450.4 1261.5,448.6 1265.5,445.7 1269.5,443.3 1273.5,440.7 1277.5,437.0 1281.5,434.0 1285.5,431.2 1289.5,430.2 1293.5,429.9 1297.5,429.7 1301.5,429.1 1305.5,428.6 1309.5,428.1 1313.5,424.8 1317.5,420.8 1321.5,415.9 1325.5,410.4 1329.5,405.0 1333.5,400.1 1337.5,396.4" fill="none" stroke="#0000cd" stroke-width="1" stroke-linejoin="round" shape-rendering="crispEdges"/>
<polyline points="1.5,221.1 5.5,220.7 9.5,217.8 13.5,216.2 17.5,216.4 21.5,219.1 25.5,217.5 29.5,215.3 33.5,210.9 37.5,207.2 41.5,204.6 45.5,205.7 49.5,205.7 53.5,205.9 57.5,204.0 61.5,199.7 65.5,195.9 69.5,190.7 73.5,183.4 77.5,174.8 81.5,173.9 85.5,172.4 89.5,172.9 93.5,173.6 97.5,170.9 101.5,166.9 105.5,161.6 109.5,154.9 113.5,150.8 117.5,147.4 121.5,145.6 125.5,145.7 129.5,147.8 133.5,152.3 137.5,151.4 141.5,152.6 145.5,155.4 149.5,157.8 153.5,162.4 157.5,167.2 161.5,173.4 165.5,179.6 169.5,182.1 173.5,184.7 177.5,186.9 181.5,184.9 185.5,180.9 189.5,176.6 193.5,173.4 197.5,171.4 201.5,170.6 205.5,170.6 209.5,173.5 213.5,175.2 217.5,181.8 221.5,187.6 225.5,196.1 229.5,203.6 233.5,212.7 237.5,222.6 241.5,231.4 245.5,238.1 249.5,242.4 253.5,245.7 257.5,247.8 261.5,248.8 265.5,247.7 269.5,245.6 273.5,239.9 277.5,235.1 281.5,230.1 285.5,225.8 289.5,222.6 293.5,221.9 297.5,221.2 301.5,226.8 305.5,232.8 309.5,238.4 313.5,244.7 317.5,248.0 321.5,250.1 325.5,253.1 329.5,255.8 333.5,259.4 337.5,261.4 341.5,262.0 345.5,260.2 349.5,257.3 353.5,259.2 357.5,255.8 361.5,251.4 365.5,249.4 369.5,247.9 373.5,250.1 377.5,254.5 381.5,259.4 385.5,266.1 389.5,273.4 393.5,278.5 397.5,285.6 401.5,293.0 405.5,300.6 409.5,301.7 413.5,302.6 417.5,305.6 421.5,306.6 425.5,303.6 429.5,300.4 433.5,296.4 437.5,292.1 441.5,287.4 445.5,284.4 449.5,285.2 453.5,283.6 457.5,281.4 461.5,281.9 465.5,285.8 469.5,293.2 473.5,299.3 477.5,305.0 481.5,312.4 485.5,317.4 489.5,320.5 493.5,326.4 497.5,332.2 501.5,334.7 505.5,336.4 509.5,339.7 513.5,343.1 517.5,342.2 521.5,339.5 525.5,334.6 529.5,330.4 533.5,327.6 537.5,326.6 541.5,328.3 545.5,332.6 549.5,333.9 553.5,334.9 557.5,336.9 561.5,339.1 565.5,339.7 569.5,339.7 573.5,340.6 577.5,343.3 581.5,346.1 585.5,351.3 589.5,354.9 593.5,356.9 597.5,356.9 601.5,354.7 605.5,350.5 609.5,346.6 613.5,339.2 617.5,330.0 621.5,320.9 625.5,314.7 629.5,309.0 633.5,302.6 637.5,297.4 641.5,293.1 645.5,289.6 649.5,285.1 653.5,283.9 657.5,283.5 661.5,281.0 665.5,276.3 669.5,272.2 673.5,268.6 677.5,266.1 681.5,261.8 685.5,258.9 689.5,255.1 693.5,249.5 697.5,244.5 701.5,239.4 705.5,237.0 709.5,232.1 713.5,231.9 717.5,235.1 721.5,241.7 725.5,250.4 729.5,257.6 733.5,264.2 737.5,271.6 741.5,276.9 745.5,283.2 749.5,292.3 753.5,296.4 757.5,300.7 761.5,303.9 765.5,307.5 769.5,307.6 773.5,311.3 777.5,314.9 781.5,317.8 785.5,325.4 789.5,332.8 793.5,338.9 797.5,345.5 801.5,352.4 805.5,360.6 809.5,367.0 813.5,372.9 817.5,374.1 821.5,375.4 825.5,374.2 829.5,371.1 833.5,366.8 837.5,364.0 841.5,359.1 845.5,356.0 849.5,355.9 853.5,358.6 857.5,360.9 861.5,358.9 865.5,359.9 869.5,360.9 873.5,366.4 877.5,372.1 881.5,376.9 885.5,381.1 889.5,386.9 893.5,393.1 897.5,400.1 901.5,406.9 905.5,415.2 909.5,421.9 913.5,428.6 917.5,435.8 921.5,439.6 925.5,442.6 929.5,445.5 933.5,448.7 937.5,453.6 941.5,458.7 945.5,464.7 949.5,465.6 953.5,466.0 957.5,465.5 961.5,464.6 965.5,459.9 969.5,456.2 973.5,452.0 977.5,453.1 981.5,454.3 985.5,457.1 989.5,458.1 993.5,464.0 997.5,469.6 1001.5,473.1 1005.5,480.6 1009.5,489.9 1013.5,497.2 1017.5,500.3 1021.5,504.1 1025.5,507.4 1029.5,510.6 1033.5,511.6 1037.5,515.4 1041.5,516.0 1045.5,515.6 1049.5,510.7 1053.5,505.0 1057.5,500.4 1061.5,495.0 1065.5,485.6 1069.5,474.9 1073.5,463.6 1077.5,454.5 1081.5,445.3 1085.5,437.2 1089.5,429.9 1093.5,421.8 1097.5,416.2 1101.5,412.9 1105.5,409.6 1109.5,405.5 1113.5,400.1 1117.5,393.8 1121.5,388.8 1125.5,387.1 1129.5,387.3 1133.5,392.1 1137.5,395.8 1141.5,400.5 1145.5,405.7 1149.5,409.9 1153.5,412.3 1157.5,416.0 1161.5,421.1 1165.5,427.3 1169.5,431.2 1173.5,436.6 1177.5,441.4 1181.5,446.5 1185.5,451.4 1189.5,451.1 1193.5,453.3 1197.5,454.4 1201.5,455.0 1205.5,455.7 1209.5,457.8 1213.5,458.0 1217.5,456.7 1221.5,456.0 1225.5,455.0 1229.5,453.6 1233.5,453.1 1237.5,451.7 1241.5,452.9 1245.5,454.0 1249.5,452.1 1253.5,448.6 1257.5,444.6 1261.5,438.6 1265.5,431.2 1269.5,425.2 1273.5,419.4 1277.5,411.7 1281.5,408.7 1285.5,406.9 1289.5,406.9 1293.5,408.3 1297.5,405.9 1301.5,404.1 1305.5,403.3 1309.5,402.9 1313.5,398.5 1317.5,394.9 1321.5,391.1 1325.5,385.4 1329.5,381.1 1333.5,378.9 1337.5,376.2" fill="none" stroke="#ff0000" stroke-width="1" stroke-linejoin="round" shape-rendering="crispEdges"/>
<polyline points="1.5,194.2 5.5,196.9 9.5,201.0 13.5,209.9 17.5,226.1 21.5,236.3 25.5,234.1 29.5,234.3 33.5,222.7 37.5,204.9 41.5,188.3 45.5,183.3 49.5,175.9 53.5,179.3 57.5,180.7 61.5,182.7 65.5,172.5 69.5,168.3 73.5,163.3 77.5,154.5 81.5,161.9 85.5,168.3 89.5,172.7 93.5,177.5 97.5,177.5 101.5,163.7 105.5,145.9 109.5,129.1 113.5,116.7 117.5,116.7 121.5,112.7 125.5,123.7 129.5,143.3 133.5,158.7 137.5,173.3 141.5,188.1 145.5,199.7 149.5,205.5 153.5,205.7 157.5,207.9 161.5,203.9 165.5,197.1 169.5,184.9 173.5,179.3 177.5,167.7 181.5,155.9 185.5,146.7 189.5,143.3 193.5,141.5 197.5,144.9 201.5,159.9 205.5,176.9 209.5,196.9 213.5,213.1 217.5,232.9 221.5,244.7 225.5,256.1 229.5,263.7 233.5,272.7 237.5,270.1 241.5,269.1 245.5,261.1 249.5,250.1 253.5,237.3 257.5,230.5 261.5,225.7 265.5,223.7 269.5,221.9 273.5,216.5 277.5,209.3 281.5,203.7 285.5,202.3 289.5,208.3 293.5,219.9 297.5,230.1 301.5,251.9 305.5,269.7 309.5,281.7 313.5,294.3 317.5,300.7 321.5,288.9 325.5,278.7 329.5,265.1 333.5,250.5 337.5,241.3 341.5,235.7 345.5,228.3 349.5,224.1 353.5,229.5 357.5,236.1 361.5,239.9 365.5,251.5 369.5,268.1 373.5,275.3 377.5,285.3 381.5,301.3 385.5,311.7 389.5,321.7 393.5,320.7 397.5,322.7 401.5,322.3 405.5,320.7 409.5,308.9 413.5,303.7 417.5,296.1 421.5,289.5 425.5,276.7 429.5,271.7 433.5,267.7 437.5,263.5 441.5,258.1 445.5,267.9 449.5,278.1 453.5,287.1 457.5,292.3 461.5,305.3 465.5,312.7 469.5,326.1 473.5,339.9 477.5,355.5 481.5,361.9 485.5,360.1 489.5,344.1 493.5,339.5 497.5,334.3 501.5,330.5 505.5,331.5 509.5,340.9 513.5,338.9 517.5,333.3 521.5,326.1 525.5,320.9 529.5,313.7 533.5,312.1 537.5,318.1 541.5,328.7 545.5,338.5 549.5,349.3 553.5,354.9 557.5,359.3 561.5,361.7 565.5,360.9 569.5,355.3 573.5,349.1 577.5,344.1 581.5,340.7 585.5,346.1 589.5,354.7 593.5,363.9 597.5,366.7 601.5,362.5 605.5,347.1 609.5,331.5 613.5,309.7 617.5,286.5 621.5,266.1 625.5,255.1 629.5,243.9 633.5,241.7 637.5,249.5 641.5,268.5 645.5,284.3 649.5,296.9 653.5,314.1 657.5,323.5 661.5,313.1 665.5,294.3 669.5,273.7 673.5,243.7 677.5,217.5 681.5,201.3 685.5,195.1 689.5,193.9 693.5,196.1 697.5,207.9 701.5,221.7 705.5,235.7 709.5,249.5 713.5,274.1 717.5,286.9 721.5,300.7 725.5,311.3 729.5,315.1 733.5,308.1 737.5,303.3 741.5,293.7 745.5,285.7 749.5,293.3 753.5,297.9 757.5,303.3 761.5,311.1 765.5,317.5 769.5,317.1 773.5,328.7 777.5,340.5 781.5,350.3 785.5,365.3 789.5,378.5 793.5,380.5 797.5,379.3 801.5,382.7 805.5,391.7 809.5,393.7 813.5,398.7 817.5,391.3 821.5,381.9 825.5,355.3 829.5,340.3 833.5,323.3 837.5,321.9 841.5,319.5 845.5,327.5 849.5,337.9 853.5,356.3 857.5,374.1 861.5,391.3 865.5,404.5 869.5,412.5 873.5,413.1 877.5,413.3 881.5,405.7 885.5,399.9 889.5,396.3 893.5,396.9 897.5,397.7 901.5,411.3 905.5,433.3 909.5,454.3 913.5,473.5 917.5,491.3 921.5,496.3 925.5,489.1 929.5,479.1 933.5,469.5 937.5,455.7 941.5,453.3 945.5,458.3 949.5,453.1 953.5,446.1 957.5,444.5 961.5,449.7 965.5,440.7 969.5,447.3 973.5,452.1 977.5,461.7 981.5,460.3 985.5,471.5 989.5,474.9 993.5,489.3 997.5,499.5 1001.5,510.9 1005.5,518.7 1009.5,534.9 1013.5,537.5 1017.5,535.5 1021.5,527.7 1025.5,522.3 1029.5,510.1 1033.5,502.1 1037.5,502.5 1041.5,504.7 1045.5,498.1 1049.5,489.7 1053.5,480.9 1057.5,469.1 1061.5,459.9 1065.5,450.9 1069.5,437.3 1073.5,419.7 1077.5,399.1 1081.5,383.1 1085.5,374.5 1089.5,376.1 1093.5,385.3 1097.5,397.5 1101.5,407.3 1105.5,412.3 1109.5,412.5 1113.5,408.5 1117.5,397.1 1121.5,383.5 1125.5,374.3 1129.5,368.7 1133.5,376.5 1137.5,388.7 1141.5,407.3 1145.5,428.3 1149.5,448.7 1153.5,454.1 1157.5,463.9 1161.5,470.1 1165.5,472.9 1169.5,468.1 1173.5,465.3 1177.5,454.7 1181.5,445.3 1185.5,436.1 1189.5,432.1 1193.5,435.3 1197.5,443.5 1201.5,452.1 1205.5,460.9 1209.5,472.9 1213.5,477.1 1217.5,476.7 1221.5,475.7 1225.5,466.1 1229.5,453.5 1233.5,441.1 1237.5,431.3 1241.5,427.3 1245.5,429.3 1249.5,431.1 1253.5,430.7 1257.5,432.3 1261.5,421.1 1265.5,409.1 1269.5,401.9 1273.5,394.9 1277.5,383.5 1281.5,382.3 1285.5,385.5 1289.5,389.9 1293.5,400.3 1297.5,410.9 1301.5,416.3 1305.5,420.9 1309.5,419.3 1313.5,404.9 1317.5,390.3 1321.5,372.9 1325.5,351.7 1329.5,334.1 1333.5,328.5 1337.5,330.1" fill="none" stroke="#ffa500" stroke-width="1" stroke-linejoin="round" shape-rendering="crispEdges"/>
</svg>
<g shape-rendering="crispEdges">
<rect x="0" y="263" width="6" height="6" fill="#ff0000" />
<rect x="2" y="265" width="2" height="2" fill="#ffffff" />
<rect x="1675" y="263" width="6" height="6" fill="#ff0000" />
<rect x="1677" y="265" width="2" height="2" fill="#ffffff" />
<rect x="0" y="327" width="6" height="6" fill="#ff0000" />
<rect x="2" y="329" width="2" height="2" fill="#ffffff" />
<rect x="1675" y="327" width="6" height="6" fill="#ff0000" />
<rect x="1677" y="329" width="2" height="2" fill="#ffffff" />
<rect x="0" y="404" width="6" height="6" fill="#00ff00" />
<rect x="2" y="406" width="2" height="2" fill="#ffffff" />
<rect x="1675" y="404" width="6" height="6" fill="#00ff00" />
<rect x="1677" y="406" width="2" height="2" fill="#ffffff" />
<rect x="0" y="480" width="6" height="6" fill="#0000ff" />
<rect x="2" y="482" width="2" height="2" fill="#ffffff" />
<rect x="1675" y="480" width="6" height="6" fill="#0000ff" />
<rect x="1677" y="482" width="2" height="2" fill="#ffffff" />
</g>
<path d="M1339 24H1348L1343.5 29Z" fill="#b4b4b4"/>
<rect x="1683" y="260" width="38" height="11" fill="#ff0000" />
<text x="1687.5" y="269" font-size="9.8" fill="#ffffff" stroke="#ffffff" stroke-width="0.3" textLength="32.3" lengthAdjust="spacingAndGlyphs" >1.12859</text>
<rect x="1683" y="324" width="38" height="11" fill="#ff0000" />
<text x="1687.5" y="333" font-size="9.8" fill="#ffffff" stroke="#ffffff" stroke-width="0.3" textLength="32.3" lengthAdjust="spacingAndGlyphs" >1.12018</text>
<rect x="1683" y="401" width="38" height="11" fill="#00ff00" />
<text x="1687.5" y="410" font-size="9.8" fill="#ffffff" stroke="#ffffff" stroke-width="0.3" textLength="32.3" lengthAdjust="spacingAndGlyphs" >1.11009</text>
<rect x="1683" y="477" width="38" height="11" fill="#0000ff" />
<text x="1687.5" y="486" font-size="9.8" fill="#ffffff" stroke="#ffffff" stroke-width="0.3" textLength="32.3" lengthAdjust="spacingAndGlyphs" >1.10008</text>
<rect x="1683" y="568" width="38" height="11" fill="#0000cd" />
<text x="1687.5" y="577" font-size="9.8" fill="#ffffff" stroke="#ffffff" stroke-width="0.3" textLength="32.3" lengthAdjust="spacingAndGlyphs" >1.08800</text>
<rect x="1683" y="347" width="38" height="11" fill="#000000" />
<text x="1687.5" y="356" font-size="9.8" fill="#ffffff" stroke="#ffffff" stroke-width="0.3" textLength="32.3" lengthAdjust="spacingAndGlyphs" >1.11727</text>
<g shape-rendering="crispEdges">
<line x1="2" y1="624.5" x2="1681" y2="624.5" stroke="#c0c0c0" stroke-dasharray="3,3"/>
<line x1="2" y1="665.5" x2="1681" y2="665.5" stroke="#c0c0c0" stroke-dasharray="3,3"/>
</g>
<polyline points="1.5,644.5 5.5,650.4 9.5,645.3 13.5,647.4 17.5,652.4 21.5,651.2 25.5,646.9 29.5,643.9 33.5,638.3 37.5,638.5 41.5,638.5 45.5,644.6 49.5,639.2 53.5,641.5 57.5,640.4 61.5,641.5 65.5,637.2 69.5,636.3 73.5,638.1 77.5,634.3 81.5,649.5 85.5,644.2 89.5,642.3 93.5,644.3 97.5,637.1 101.5,639.5 105.5,633.5 109.5,632.2 113.5,638.0 117.5,640.3 121.5,639.6 125.5,643.8 129.5,649.1 133.5,650.5 137.5,652.1 141.5,651.5 145.5,652.5 149.5,653.4 153.5,649.3 157.5,652.8 161.5,645.6 165.5,644.1 169.5,640.0 173.5,643.3 177.5,641.3 181.5,635.2 185.5,636.6 189.5,638.3 193.5,643.6 197.5,647.0 201.5,651.4 205.5,654.2 209.5,657.8 213.5,658.5 217.5,663.4 221.5,658.8 225.5,660.9 229.5,661.3 233.5,663.0 237.5,656.0 241.5,653.6 245.5,648.3 249.5,645.5 253.5,645.9 257.5,647.4 261.5,647.6 265.5,645.6 269.5,642.5 273.5,638.4 277.5,637.6 281.5,640.7 285.5,645.1 289.5,652.1 293.5,655.0 297.5,651.6 301.5,664.2 305.5,662.3 309.5,661.3 313.5,663.8 317.5,651.8 321.5,646.2 325.5,646.6 329.5,642.1 333.5,644.5 337.5,641.3 341.5,640.0 345.5,638.4 349.5,637.5 353.5,651.7 357.5,649.7 361.5,644.9 365.5,651.5 369.5,655.2 373.5,657.0 377.5,658.0 381.5,659.7 385.5,660.4 389.5,663.5 393.5,651.1 397.5,654.8 401.5,654.3 405.5,653.8 409.5,645.7 413.5,643.2 417.5,645.3 421.5,646.1 425.5,638.5 429.5,640.4 433.5,639.0 437.5,641.3 441.5,640.5 445.5,651.4 449.5,653.3 453.5,649.9 457.5,646.9 461.5,654.7 465.5,657.4 469.5,663.5 473.5,660.6 477.5,660.0 481.5,657.0 485.5,649.9 489.5,642.6 493.5,651.7 497.5,650.6 501.5,649.9 505.5,649.4 509.5,651.5 513.5,648.9 517.5,643.2 521.5,640.8 525.5,642.9 529.5,642.9 533.5,647.6 537.5,651.2 541.5,653.9 545.5,654.8 549.5,656.0 553.5,653.1 557.5,655.4 561.5,655.9 565.5,651.3 569.5,644.9 573.5,641.6 577.5,646.3 581.5,649.3 585.5,657.2 589.5,656.1 593.5,653.3 597.5,647.6 601.5,640.6 605.5,635.0 609.5,634.2 613.5,626.9 617.5,623.4 621.5,621.9 625.5,629.4 629.5,628.6 633.5,630.6 637.5,638.4 641.5,648.9 645.5,650.3 649.5,645.4 653.5,651.2 657.5,648.2 661.5,637.9 665.5,632.7 669.5,628.9 673.5,626.9 677.5,628.3 681.5,627.8 685.5,631.6 689.5,630.9 693.5,630.7 697.5,643.7 701.5,644.9 705.5,648.1 709.5,646.7 713.5,656.1 717.5,654.9 721.5,656.6 725.5,656.6 729.5,647.1 733.5,646.8 737.5,648.1 741.5,645.0 745.5,646.9 749.5,654.6 753.5,650.6 757.5,652.5 761.5,652.2 765.5,652.5 769.5,653.4 773.5,661.7 777.5,663.5 781.5,659.9 785.5,664.2 789.5,662.6 793.5,658.7 797.5,657.1 801.5,659.4 805.5,667.8 809.5,656.6 813.5,657.1 817.5,642.8 821.5,643.2 825.5,637.9 829.5,641.5 833.5,640.3 837.5,642.6 841.5,642.1 845.5,646.6 849.5,652.2 853.5,657.4 857.5,658.6 861.5,657.0 865.5,657.2 869.5,657.9 873.5,656.7 877.5,657.9 881.5,645.5 885.5,647.7 889.5,651.0 893.5,654.3 897.5,655.7 901.5,659.2 905.5,666.6 909.5,667.8 913.5,668.8 917.5,668.8 921.5,655.3 925.5,653.1 929.5,652.0 933.5,654.0 937.5,648.5 941.5,651.0 945.5,656.4 949.5,643.8 953.5,644.0 957.5,645.3 961.5,653.9 965.5,645.2 969.5,649.1 973.5,647.6 977.5,652.5 981.5,650.6 985.5,653.9 989.5,650.4 993.5,657.4 997.5,658.6 1001.5,657.9 1005.5,658.2 1009.5,661.9 1013.5,656.6 1017.5,653.2 1021.5,646.3 1025.5,648.9 1029.5,647.2 1033.5,647.2 1037.5,652.7 1041.5,647.4 1045.5,641.4 1049.5,638.3 1053.5,638.0 1057.5,641.1 1061.5,639.1 1065.5,633.8 1069.5,627.9 1073.5,625.2 1077.5,625.0 1081.5,628.6 1085.5,630.9 1089.5,633.9 1093.5,638.2 1097.5,641.5 1101.5,641.7 1105.5,638.2 1109.5,635.5 1113.5,634.4 1117.5,629.9 1121.5,628.1 1125.5,630.2 1129.5,631.9 1133.5,648.7 1137.5,648.2 1141.5,652.8 1145.5,656.1 1149.5,656.5 1153.5,652.7 1157.5,656.7 1161.5,657.4 1165.5,657.6 1169.5,647.0 1173.5,646.2 1177.5,641.4 1181.5,644.1 1185.5,644.7 1189.5,641.9 1193.5,650.6 1197.5,652.0 1201.5,654.7 1205.5,655.4 1209.5,656.7 1213.5,654.5 1217.5,648.7 1221.5,651.1 1225.5,639.7 1229.5,637.6 1233.5,636.4 1237.5,635.4 1241.5,646.8 1245.5,644.2 1249.5,641.6 1253.5,637.7 1257.5,639.5 1261.5,633.6 1265.5,630.8 1269.5,635.4 1273.5,632.3 1277.5,629.3 1281.5,637.1 1285.5,639.4 1289.5,644.8 1293.5,648.4 1297.5,644.6 1301.5,644.3 1305.5,645.4 1309.5,642.3 1313.5,631.6 1317.5,628.8 1321.5,626.5 1325.5,624.2 1329.5,626.6 1333.5,630.3 1337.5,636.5" fill="none" stroke="#1e90ff" stroke-width="1" shape-rendering="crispEdges"/>
<text x="5" y="605" font-size="10" fill="#000" stroke="#000" stroke-width="0.3" textLength="68" lengthAdjust="spacingAndGlyphs" >RSI(14) 58.3870</text>
<text x="1685" y="603" font-size="10" fill="#000" stroke="#000" stroke-width="0.3" >100</text>
<text x="1684" y="628" font-size="10" fill="#000" stroke="#000" stroke-width="0.3" >70</text>
<text x="1684" y="668.5" font-size="10" fill="#000" stroke="#000" stroke-width="0.3" >30</text>
<text x="1685" y="693" font-size="10" fill="#000" stroke="#000" stroke-width="0.3" >0</text>
<g shape-rendering="crispEdges">
<rect x="1682" y="594" width="2" height="1" fill="#000" />
<rect x="1682" y="695" width="2" height="1" fill="#000" />
</g>
<g shape-rendering="crispEdges">
<rect x="1" y="747" width="1" height="3" fill="#c0c0c0" />
<rect x="5" y="747" width="1" height="6" fill="#c0c0c0" />
<rect x="9" y="747" width="1" height="5" fill="#c0c0c0" />
<rect x="13" y="747" width="1" height="5" fill="#c0c0c0" />
<rect x="17" y="747" width="1" height="11" fill="#c0c0c0" />
<rect x="21" y="747" width="1" height="14" fill="#c0c0c0" />
<rect x="25" y="747" width="1" height="13" fill="#c0c0c0" />
<rect x="29" y="747" width="1" height="10" fill="#c0c0c0" />
<rect x="33" y="747" width="1" height="3" fill="#c0c0c0" />
<rect x="37" y="746" width="1" height="2" fill="#c0c0c0" />
<rect x="41" y="742" width="1" height="6" fill="#c0c0c0" />
<rect x="45" y="743" width="1" height="5" fill="#c0c0c0" />
<rect x="49" y="740" width="1" height="8" fill="#c0c0c0" />
<rect x="53" y="739" width="1" height="9" fill="#c0c0c0" />
<rect x="57" y="738" width="1" height="10" fill="#c0c0c0" />
<rect x="61" y="737" width="1" height="11" fill="#c0c0c0" />
<rect x="65" y="734" width="1" height="14" fill="#c0c0c0" />
<rect x="69" y="731" width="1" height="17" fill="#c0c0c0" />
<rect x="73" y="730" width="1" height="18" fill="#c0c0c0" />
<rect x="77" y="727" width="1" height="21" fill="#c0c0c0" />
<rect x="81" y="734" width="1" height="14" fill="#c0c0c0" />
<rect x="85" y="736" width="1" height="12" fill="#c0c0c0" />
<rect x="89" y="736" width="1" height="12" fill="#c0c0c0" />
<rect x="93" y="737" width="1" height="11" fill="#c0c0c0" />
<rect x="97" y="733" width="1" height="15" fill="#c0c0c0" />
<rect x="101" y="732" width="1" height="16" fill="#c0c0c0" />
<rect x="105" y="726" width="1" height="22" fill="#c0c0c0" />
<rect x="109" y="720" width="1" height="28" fill="#c0c0c0" />
<rect x="113" y="719" width="1" height="29" fill="#c0c0c0" />
<rect x="117" y="720" width="1" height="28" fill="#c0c0c0" />
<rect x="121" y="721" width="1" height="27" fill="#c0c0c0" />
<rect x="125" y="724" width="1" height="24" fill="#c0c0c0" />
<rect x="129" y="731" width="1" height="17" fill="#c0c0c0" />
<rect x="133" y="737" width="1" height="11" fill="#c0c0c0" />
<rect x="137" y="743" width="1" height="5" fill="#c0c0c0" />
<rect x="145" y="747" width="1" height="5" fill="#c0c0c0" />
<rect x="149" y="747" width="1" height="9" fill="#c0c0c0" />
<rect x="153" y="747" width="1" height="10" fill="#c0c0c0" />
<rect x="157" y="747" width="1" height="13" fill="#c0c0c0" />
<rect x="161" y="747" width="1" height="11" fill="#c0c0c0" />
<rect x="165" y="747" width="1" height="9" fill="#c0c0c0" />
<rect x="169" y="747" width="1" height="5" fill="#c0c0c0" />
<rect x="173" y="747" width="1" height="3" fill="#c0c0c0" />
<rect x="177" y="747" width="1" height="1" fill="#c0c0c0" />
<rect x="181" y="742" width="1" height="6" fill="#c0c0c0" />
<rect x="185" y="739" width="1" height="9" fill="#c0c0c0" />
<rect x="189" y="737" width="1" height="11" fill="#c0c0c0" />
<rect x="193" y="738" width="1" height="10" fill="#c0c0c0" />
<rect x="197" y="740" width="1" height="8" fill="#c0c0c0" />
<rect x="201" y="745" width="1" height="3" fill="#c0c0c0" />
<rect x="205" y="747" width="1" height="3" fill="#c0c0c0" />
<rect x="209" y="747" width="1" height="9" fill="#c0c0c0" />
<rect x="213" y="747" width="1" height="15" fill="#c0c0c0" />
<rect x="217" y="747" width="1" height="22" fill="#c0c0c0" />
<rect x="221" y="747" width="1" height="26" fill="#c0c0c0" />
<rect x="225" y="747" width="1" height="31" fill="#c0c0c0" />
<rect x="229" y="747" width="1" height="34" fill="#c0c0c0" />
<rect x="233" y="747" width="1" height="37" fill="#c0c0c0" />
<rect x="237" y="747" width="1" height="37" fill="#c0c0c0" />
<rect x="241" y="747" width="1" height="35" fill="#c0c0c0" />
<rect x="245" y="747" width="1" height="32" fill="#c0c0c0" />
<rect x="249" y="747" width="1" height="27" fill="#c0c0c0" />
<rect x="253" y="747" width="1" height="23" fill="#c0c0c0" />
<rect x="257" y="747" width="1" height="21" fill="#c0c0c0" />
<rect x="261" y="747" width="1" height="18" fill="#c0c0c0" />
<rect x="265" y="747" width="1" height="16" fill="#c0c0c0" />
<rect x="269" y="747" width="1" height="12" fill="#c0c0c0" />
<rect x="273" y="747" width="1" height="8" fill="#c0c0c0" />
<rect x="277" y="747" width="1" height="4" fill="#c0c0c0" />
<rect x="281" y="747" width="1" height="2" fill="#c0c0c0" />
<rect x="285" y="747" width="1" height="2" fill="#c0c0c0" />
<rect x="289" y="747" width="1" height="4" fill="#c0c0c0" />
<rect x="293" y="747" width="1" height="7" fill="#c0c0c0" />
<rect x="297" y="747" width="1" height="9" fill="#c0c0c0" />
<rect x="301" y="747" width="1" height="17" fill="#c0c0c0" />
<rect x="305" y="747" width="1" height="22" fill="#c0c0c0" />
<rect x="309" y="747" width="1" height="26" fill="#c0c0c0" />
<rect x="313" y="747" width="1" height="30" fill="#c0c0c0" />
<rect x="317" y="747" width="1" height="29" fill="#c0c0c0" />
<rect x="321" y="747" width="1" height="25" fill="#c0c0c0" />
<rect x="325" y="747" width="1" height="22" fill="#c0c0c0" />
<rect x="329" y="747" width="1" height="17" fill="#c0c0c0" />
<rect x="333" y="747" width="1" height="14" fill="#c0c0c0" />
<rect x="337" y="747" width="1" height="10" fill="#c0c0c0" />
<rect x="341" y="747" width="1" height="6" fill="#c0c0c0" />
<rect x="345" y="747" width="1" height="3" fill="#c0c0c0" />
<rect x="349" y="746" width="1" height="2" fill="#c0c0c0" />
<rect x="353" y="747" width="1" height="3" fill="#c0c0c0" />
<rect x="357" y="747" width="1" height="5" fill="#c0c0c0" />
<rect x="361" y="747" width="1" height="4" fill="#c0c0c0" />
<rect x="365" y="747" width="1" height="7" fill="#c0c0c0" />
<rect x="369" y="747" width="1" height="11" fill="#c0c0c0" />
<rect x="373" y="747" width="1" height="15" fill="#c0c0c0" />
<rect x="377" y="747" width="1" height="19" fill="#c0c0c0" />
<rect x="381" y="747" width="1" height="23" fill="#c0c0c0" />
<rect x="385" y="747" width="1" height="26" fill="#c0c0c0" />
<rect x="389" y="747" width="1" height="31" fill="#c0c0c0" />
<rect x="393" y="747" width="1" height="29" fill="#c0c0c0" />
<rect x="397" y="747" width="1" height="30" fill="#c0c0c0" />
<rect x="401" y="747" width="1" height="30" fill="#c0c0c0" />
<rect x="405" y="747" width="1" height="29" fill="#c0c0c0" />
<rect x="409" y="747" width="1" height="25" fill="#c0c0c0" />
<rect x="413" y="747" width="1" height="20" fill="#c0c0c0" />
<rect x="417" y="747" width="1" height="17" fill="#c0c0c0" />
<rect x="421" y="747" width="1" height="15" fill="#c0c0c0" />
<rect x="425" y="747" width="1" height="9" fill="#c0c0c0" />
<rect x="429" y="747" width="1" height="6" fill="#c0c0c0" />
<rect x="433" y="747" width="1" height="2" fill="#c0c0c0" />
<rect x="441" y="746" width="1" height="2" fill="#c0c0c0" />
<rect x="445" y="747" width="1" height="2" fill="#c0c0c0" />
<rect x="449" y="747" width="1" height="5" fill="#c0c0c0" />
<rect x="453" y="747" width="1" height="7" fill="#c0c0c0" />
<rect x="457" y="747" width="1" height="6" fill="#c0c0c0" />
<rect x="461" y="747" width="1" height="10" fill="#c0c0c0" />
<rect x="465" y="747" width="1" height="14" fill="#c0c0c0" />
<rect x="469" y="747" width="1" height="22" fill="#c0c0c0" />
<rect x="473" y="747" width="1" height="26" fill="#c0c0c0" />
<rect x="477" y="747" width="1" height="29" fill="#c0c0c0" />
<rect x="481" y="747" width="1" height="30" fill="#c0c0c0" />
<rect x="485" y="747" width="1" height="28" fill="#c0c0c0" />
<rect x="489" y="747" width="1" height="22" fill="#c0c0c0" />
<rect x="493" y="747" width="1" height="22" fill="#c0c0c0" />
<rect x="497" y="747" width="1" height="22" fill="#c0c0c0" />
<rect x="501" y="747" width="1" height="21" fill="#c0c0c0" />
<rect x="505" y="747" width="1" height="20" fill="#c0c0c0" />
<rect x="509" y="747" width="1" height="20" fill="#c0c0c0" />
<rect x="513" y="747" width="1" height="18" fill="#c0c0c0" />
<rect x="517" y="747" width="1" height="15" fill="#c0c0c0" />
<rect x="521" y="747" width="1" height="11" fill="#c0c0c0" />
<rect x="525" y="747" width="1" height="8" fill="#c0c0c0" />
<rect x="529" y="747" width="1" height="6" fill="#c0c0c0" />
<rect x="533" y="747" width="1" height="6" fill="#c0c0c0" />
<rect x="537" y="747" width="1" height="8" fill="#c0c0c0" />
<rect x="541" y="747" width="1" height="10" fill="#c0c0c0" />
<rect x="545" y="747" width="1" height="12" fill="#c0c0c0" />
<rect x="549" y="747" width="1" height="15" fill="#c0c0c0" />
<rect x="553" y="747" width="1" height="15" fill="#c0c0c0" />
<rect x="557" y="747" width="1" height="17" fill="#c0c0c0" />
<rect x="561" y="747" width="1" height="18" fill="#c0c0c0" />
<rect x="565" y="747" width="1" height="17" fill="#c0c0c0" />
<rect x="569" y="747" width="1" height="14" fill="#c0c0c0" />
<rect x="573" y="747" width="1" height="11" fill="#c0c0c0" />
<rect x="577" y="747" width="1" height="10" fill="#c0c0c0" />
<rect x="581" y="747" width="1" height="10" fill="#c0c0c0" />
<rect x="585" y="747" width="1" height="13" fill="#c0c0c0" />
<rect x="589" y="747" width="1" height="15" fill="#c0c0c0" />
<rect x="593" y="747" width="1" height="16" fill="#c0c0c0" />
<rect x="597" y="747" width="1" height="14" fill="#c0c0c0" />
<rect x="601" y="747" width="1" height="10" fill="#c0c0c0" />
<rect x="605" y="747" width="1" height="5" fill="#c0c0c0" />
<rect x="609" y="747" width="1" height="1" fill="#c0c0c0" />
<rect x="613" y="739" width="1" height="9" fill="#c0c0c0" />
<rect x="617" y="730" width="1" height="18" fill="#c0c0c0" />
<rect x="621" y="722" width="1" height="26" fill="#c0c0c0" />
<rect x="625" y="719" width="1" height="29" fill="#c0c0c0" />
<rect x="629" y="716" width="1" height="32" fill="#c0c0c0" />
<rect x="633" y="715" width="1" height="33" fill="#c0c0c0" />
<rect x="637" y="717" width="1" height="31" fill="#c0c0c0" />
<rect x="641" y="723" width="1" height="25" fill="#c0c0c0" />
<rect x="645" y="730" width="1" height="18" fill="#c0c0c0" />
<rect x="649" y="733" width="1" height="15" fill="#c0c0c0" />
<rect x="653" y="738" width="1" height="10" fill="#c0c0c0" />
<rect x="657" y="741" width="1" height="7" fill="#c0c0c0" />
<rect x="661" y="738" width="1" height="10" fill="#c0c0c0" />
<rect x="665" y="732" width="1" height="16" fill="#c0c0c0" />
<rect x="669" y="724" width="1" height="24" fill="#c0c0c0" />
<rect x="673" y="716" width="1" height="32" fill="#c0c0c0" />
<rect x="677" y="711" width="1" height="37" fill="#c0c0c0" />
<rect x="681" y="707" width="1" height="41" fill="#c0c0c0" />
<rect x="685" y="706" width="1" height="42" fill="#c0c0c0" />
<rect x="689" y="705" width="1" height="43" fill="#c0c0c0" />
<rect x="693" y="705" width="1" height="43" fill="#c0c0c0" />
<rect x="697" y="711" width="1" height="37" fill="#c0c0c0" />
<rect x="701" y="717" width="1" height="31" fill="#c0c0c0" />
<rect x="705" y="723" width="1" height="25" fill="#c0c0c0" />
<rect x="709" y="728" width="1" height="20" fill="#c0c0c0" />
<rect x="713" y="737" width="1" height="11" fill="#c0c0c0" />
<rect x="717" y="744" width="1" height="4" fill="#c0c0c0" />
<rect x="721" y="747" width="1" height="4" fill="#c0c0c0" />
<rect x="725" y="747" width="1" height="9" fill="#c0c0c0" />
<rect x="729" y="747" width="1" height="9" fill="#c0c0c0" />
<rect x="733" y="747" width="1" height="9" fill="#c0c0c0" />
<rect x="737" y="747" width="1" height="9" fill="#c0c0c0" />
<rect x="741" y="747" width="1" height="8" fill="#c0c0c0" />
<rect x="745" y="747" width="1" height="8" fill="#c0c0c0" />
<rect x="749" y="747" width="1" height="11" fill="#c0c0c0" />
<rect x="753" y="747" width="1" height="12" fill="#c0c0c0" />
<rect x="757" y="747" width="1" height="14" fill="#c0c0c0" />
<rect x="761" y="747" width="1" height="15" fill="#c0c0c0" />
<rect x="765" y="747" width="1" height="16" fill="#c0c0c0" />
<rect x="769" y="747" width="1" height="17" fill="#c0c0c0" />
<rect x="773" y="747" width="1" height="22" fill="#c0c0c0" />
<rect x="777" y="747" width="1" height="27" fill="#c0c0c0" />
<rect x="781" y="747" width="1" height="30" fill="#c0c0c0" />
<rect x="785" y="747" width="1" height="34" fill="#c0c0c0" />
<rect x="789" y="747" width="1" height="37" fill="#c0c0c0" />
<rect x="793" y="747" width="1" height="37" fill="#c0c0c0" />
<rect x="797" y="747" width="1" height="36" fill="#c0c0c0" />
<rect x="801" y="747" width="1" height="37" fill="#c0c0c0" />
<rect x="805" y="747" width="1" height="42" fill="#c0c0c0" />
<rect x="809" y="747" width="1" height="42" fill="#c0c0c0" />
<rect x="813" y="747" width="1" height="42" fill="#c0c0c0" />
<rect x="817" y="747" width="1" height="34" fill="#c0c0c0" />
<rect x="821" y="747" width="1" height="27" fill="#c0c0c0" />
<rect x="825" y="747" width="1" height="19" fill="#c0c0c0" />
<rect x="829" y="747" width="1" height="14" fill="#c0c0c0" />
<rect x="833" y="747" width="1" height="9" fill="#c0c0c0" />
<rect x="837" y="747" width="1" height="6" fill="#c0c0c0" />
<rect x="841" y="747" width="1" height="4" fill="#c0c0c0" />
<rect x="845" y="747" width="1" height="4" fill="#c0c0c0" />
<rect x="849" y="747" width="1" height="7" fill="#c0c0c0" />
<rect x="853" y="747" width="1" height="13" fill="#c0c0c0" />
<rect x="857" y="747" width="1" height="19" fill="#c0c0c0" />
<rect x="861" y="747" width="1" height="22" fill="#c0c0c0" />
<rect x="865" y="747" width="1" height="25" fill="#c0c0c0" />
<rect x="869" y="747" width="1" height="27" fill="#c0c0c0" />
<rect x="873" y="747" width="1" height="28" fill="#c0c0c0" />
<rect x="877" y="747" width="1" height="29" fill="#c0c0c0" />
<rect x="881" y="747" width="1" height="25" fill="#c0c0c0" />
<rect x="885" y="747" width="1" height="22" fill="#c0c0c0" />
<rect x="889" y="747" width="1" height="21" fill="#c0c0c0" />
<rect x="893" y="747" width="1" height="22" fill="#c0c0c0" />
<rect x="897" y="747" width="1" height="24" fill="#c0c0c0" />
<rect x="901" y="747" width="1" height="26" fill="#c0c0c0" />
<rect x="905" y="747" width="1" height="34" fill="#c0c0c0" />
<rect x="909" y="747" width="1" height="40" fill="#c0c0c0" />
<rect x="913" y="747" width="1" height="46" fill="#c0c0c0" />
<rect x="917" y="747" width="1" height="50" fill="#c0c0c0" />
<rect x="921" y="747" width="1" height="47" fill="#c0c0c0" />
<rect x="925" y="747" width="1" height="44" fill="#c0c0c0" />
<rect x="929" y="747" width="1" height="40" fill="#c0c0c0" />
<rect x="933" y="747" width="1" height="38" fill="#c0c0c0" />
<rect x="937" y="747" width="1" height="34" fill="#c0c0c0" />
<rect x="941" y="747" width="1" height="31" fill="#c0c0c0" />
<rect x="945" y="747" width="1" height="32" fill="#c0c0c0" />
<rect x="949" y="747" width="1" height="26" fill="#c0c0c0" />
<rect x="953" y="747" width="1" height="22" fill="#c0c0c0" />
<rect x="957" y="747" width="1" height="18" fill="#c0c0c0" />
<rect x="961" y="747" width="1" height="20" fill="#c0c0c0" />
<rect x="965" y="747" width="1" height="17" fill="#c0c0c0" />
<rect x="969" y="747" width="1" height="17" fill="#c0c0c0" />
<rect x="973" y="747" width="1" height="16" fill="#c0c0c0" />
<rect x="977" y="747" width="1" height="18" fill="#c0c0c0" />
<rect x="981" y="747" width="1" height="18" fill="#c0c0c0" />
<rect x="985" y="747" width="1" height="21" fill="#c0c0c0" />
<rect x="989" y="747" width="1" height="21" fill="#c0c0c0" />
<rect x="993" y="747" width="1" height="25" fill="#c0c0c0" />
<rect x="997" y="747" width="1" height="30" fill="#c0c0c0" />
<rect x="1001" y="747" width="1" height="32" fill="#c0c0c0" />
<rect x="1005" y="747" width="1" height="34" fill="#c0c0c0" />
<rect x="1009" y="747" width="1" height="38" fill="#c0c0c0" />
<rect x="1013" y="747" width="1" height="39" fill="#c0c0c0" />
<rect x="1017" y="747" width="1" height="37" fill="#c0c0c0" />
<rect x="1021" y="747" width="1" height="32" fill="#c0c0c0" />
<rect x="1025" y="747" width="1" height="29" fill="#c0c0c0" />
<rect x="1029" y="747" width="1" height="26" fill="#c0c0c0" />
<rect x="1033" y="747" width="1" height="23" fill="#c0c0c0" />
<rect x="1037" y="747" width="1" height="23" fill="#c0c0c0" />
<rect x="1041" y="747" width="1" height="21" fill="#c0c0c0" />
<rect x="1045" y="747" width="1" height="15" fill="#c0c0c0" />
<rect x="1049" y="747" width="1" height="9" fill="#c0c0c0" />
<rect x="1053" y="747" width="1" height="4" fill="#c0c0c0" />
<rect x="1057" y="747" width="1" height="2" fill="#c0c0c0" />
<rect x="1061" y="745" width="1" height="3" fill="#c0c0c0" />
<rect x="1065" y="740" width="1" height="8" fill="#c0c0c0" />
<rect x="1069" y="731" width="1" height="17" fill="#c0c0c0" />
<rect x="1073" y="723" width="1" height="25" fill="#c0c0c0" />
<rect x="1077" y="716" width="1" height="32" fill="#c0c0c0" />
<rect x="1081" y="712" width="1" height="36" fill="#c0c0c0" />
<rect x="1085" y="711" width="1" height="37" fill="#c0c0c0" />
<rect x="1089" y="711" width="1" height="37" fill="#c0c0c0" />
<rect x="1093" y="713" width="1" height="35" fill="#c0c0c0" />
<rect x="1097" y="717" width="1" height="31" fill="#c0c0c0" />
<rect x="1101" y="720" width="1" height="28" fill="#c0c0c0" />
<rect x="1105" y="722" width="1" height="26" fill="#c0c0c0" />
<rect x="1109" y="721" width="1" height="27" fill="#c0c0c0" />
<rect x="1113" y="721" width="1" height="27" fill="#c0c0c0" />
<rect x="1117" y="719" width="1" height="29" fill="#c0c0c0" />
<rect x="1121" y="716" width="1" height="32" fill="#c0c0c0" />
<rect x="1125" y="715" width="1" height="33" fill="#c0c0c0" />
<rect x="1129" y="715" width="1" height="33" fill="#c0c0c0" />
<rect x="1133" y="722" width="1" height="26" fill="#c0c0c0" />
<rect x="1137" y="727" width="1" height="21" fill="#c0c0c0" />
<rect x="1141" y="734" width="1" height="14" fill="#c0c0c0" />
<rect x="1145" y="742" width="1" height="6" fill="#c0c0c0" />
<rect x="1153" y="747" width="1" height="4" fill="#c0c0c0" />
<rect x="1157" y="747" width="1" height="9" fill="#c0c0c0" />
<rect x="1161" y="747" width="1" height="13" fill="#c0c0c0" />
<rect x="1165" y="747" width="1" height="16" fill="#c0c0c0" />
<rect x="1169" y="747" width="1" height="15" fill="#c0c0c0" />
<rect x="1173" y="747" width="1" height="13" fill="#c0c0c0" />
<rect x="1177" y="747" width="1" height="9" fill="#c0c0c0" />
<rect x="1181" y="747" width="1" height="8" fill="#c0c0c0" />
<rect x="1185" y="747" width="1" height="6" fill="#c0c0c0" />
<rect x="1189" y="747" width="1" height="4" fill="#c0c0c0" />
<rect x="1193" y="747" width="1" height="6" fill="#c0c0c0" />
<rect x="1197" y="747" width="1" height="8" fill="#c0c0c0" />
<rect x="1201" y="747" width="1" height="11" fill="#c0c0c0" />
<rect x="1205" y="747" width="1" height="13" fill="#c0c0c0" />
<rect x="1209" y="747" width="1" height="15" fill="#c0c0c0" />
<rect x="1213" y="747" width="1" height="16" fill="#c0c0c0" />
<rect x="1217" y="747" width="1" height="15" fill="#c0c0c0" />
<rect x="1221" y="747" width="1" height="15" fill="#c0c0c0" />
<rect x="1225" y="747" width="1" height="11" fill="#c0c0c0" />
<rect x="1229" y="747" width="1" height="6" fill="#c0c0c0" />
<rect x="1233" y="747" width="1" height="2" fill="#c0c0c0" />
<rect x="1237" y="745" width="1" height="3" fill="#c0c0c0" />
<rect x="1241" y="746" width="1" height="2" fill="#c0c0c0" />
<rect x="1245" y="746" width="1" height="2" fill="#c0c0c0" />
<rect x="1249" y="745" width="1" height="3" fill="#c0c0c0" />
<rect x="1253" y="742" width="1" height="6" fill="#c0c0c0" />
<rect x="1257" y="741" width="1" height="7" fill="#c0c0c0" />
<rect x="1261" y="737" width="1" height="11" fill="#c0c0c0" />
<rect x="1265" y="733" width="1" height="15" fill="#c0c0c0" />
<rect x="1269" y="731" width="1" height="17" fill="#c0c0c0" />
<rect x="1273" y="728" width="1" height="20" fill="#c0c0c0" />
<rect x="1277" y="725" width="1" height="23" fill="#c0c0c0" />
<rect x="1281" y="725" width="1" height="23" fill="#c0c0c0" />
<rect x="1285" y="726" width="1" height="22" fill="#c0c0c0" />
<rect x="1289" y="729" width="1" height="19" fill="#c0c0c0" />
<rect x="1293" y="734" width="1" height="14" fill="#c0c0c0" />
<rect x="1297" y="736" width="1" height="12" fill="#c0c0c0" />
<rect x="1301" y="737" width="1" height="11" fill="#c0c0c0" />
<rect x="1305" y="739" width="1" height="9" fill="#c0c0c0" />
<rect x="1309" y="739" width="1" height="9" fill="#c0c0c0" />
<rect x="1313" y="734" width="1" height="14" fill="#c0c0c0" />
<rect x="1317" y="729" width="1" height="19" fill="#c0c0c0" />
<rect x="1321" y="724" width="1" height="24" fill="#c0c0c0" />
<rect x="1325" y="718" width="1" height="30" fill="#c0c0c0" />
<rect x="1329" y="715" width="1" height="33" fill="#c0c0c0" />
<rect x="1333" y="713" width="1" height="35" fill="#c0c0c0" />
<rect x="1337" y="715" width="1" height="33" fill="#c0c0c0" />
</g>
<polyline points="1.5,763.9 5.5,761.9 9.5,759.9 13.5,757.9 17.5,755.9 21.5,755.7 25.5,755.5 29.5,755.4 33.5,755.0 37.5,754.6 41.5,753.4 45.5,752.4 49.5,750.9 53.5,748.8 57.5,746.3 61.5,743.7 65.5,741.1 69.5,738.9 73.5,737.2 77.5,735.5 81.5,734.5 85.5,734.0 89.5,733.6 93.5,733.6 97.5,733.1 101.5,732.8 105.5,732.2 109.5,731.0 113.5,730.1 117.5,728.6 121.5,727.0 125.5,725.7 129.5,725.0 133.5,725.5 137.5,726.8 141.5,729.2 145.5,732.8 149.5,736.9 153.5,741.0 157.5,745.3 161.5,749.1 165.5,751.9 169.5,753.6 173.5,754.4 177.5,754.4 181.5,753.3 185.5,751.4 189.5,749.2 193.5,746.7 197.5,744.7 201.5,743.5 205.5,743.2 209.5,743.9 213.5,745.4 217.5,748.4 221.5,752.3 225.5,756.8 229.5,761.6 233.5,766.5 237.5,770.9 241.5,774.5 245.5,776.9 249.5,778.3 253.5,778.3 257.5,777.7 261.5,776.3 265.5,774.3 269.5,771.5 273.5,768.3 277.5,764.8 281.5,761.5 285.5,758.7 289.5,756.6 293.5,755.2 297.5,754.1 301.5,754.2 305.5,755.3 309.5,757.4 313.5,760.3 317.5,763.3 321.5,765.9 325.5,767.9 329.5,769.0 333.5,769.6 337.5,768.9 341.5,767.1 345.5,764.5 349.5,761.0 353.5,758.1 357.5,755.8 361.5,753.8 365.5,752.6 369.5,752.2 373.5,752.8 377.5,754.2 381.5,756.5 385.5,759.5 389.5,762.7 393.5,765.4 397.5,768.3 401.5,770.8 405.5,772.8 409.5,773.9 413.5,774.0 417.5,773.3 421.5,772.0 425.5,769.6 429.5,767.0 433.5,764.0 437.5,760.8 441.5,757.4 445.5,754.9 449.5,753.2 453.5,752.0 457.5,751.1 461.5,751.1 465.5,752.1 469.5,754.2 473.5,757.0 477.5,760.4 481.5,763.6 485.5,766.0 489.5,767.8 493.5,769.6 497.5,770.9 501.5,771.7 505.5,771.5 509.5,770.8 513.5,769.6 517.5,767.9 521.5,766.0 525.5,764.5 529.5,762.6 533.5,760.8 537.5,759.3 541.5,758.3 545.5,757.5 549.5,757.0 553.5,757.1 557.5,757.8 561.5,758.9 565.5,760.1 569.5,761.0 573.5,761.4 577.5,761.4 581.5,761.0 585.5,760.9 589.5,760.8 593.5,760.7 597.5,760.3 601.5,759.6 605.5,758.5 609.5,757.2 613.5,755.2 617.5,752.2 621.5,748.0 625.5,743.2 629.5,737.9 633.5,732.7 637.5,728.2 641.5,725.1 645.5,723.2 649.5,722.6 653.5,723.5 657.5,725.7 661.5,727.9 665.5,729.7 669.5,730.8 673.5,730.7 677.5,729.4 681.5,726.9 685.5,723.9 689.5,720.3 693.5,716.2 697.5,713.2 701.5,711.5 705.5,711.4 709.5,712.6 713.5,715.5 717.5,719.7 721.5,724.7 725.5,730.3 729.5,736.0 733.5,741.0 737.5,745.4 741.5,748.9 745.5,751.9 749.5,754.2 753.5,755.8 757.5,757.0 761.5,757.6 765.5,758.4 769.5,759.3 773.5,760.8 777.5,762.9 781.5,765.4 785.5,767.9 789.5,770.6 793.5,773.1 797.5,775.4 801.5,777.7 805.5,780.5 809.5,782.7 813.5,784.3 817.5,784.7 821.5,784.0 825.5,782.0 829.5,779.5 833.5,776.4 837.5,773.1 841.5,768.8 845.5,764.6 849.5,760.8 853.5,758.5 857.5,757.6 861.5,758.0 865.5,759.2 869.5,761.1 873.5,763.5 877.5,766.3 881.5,768.6 885.5,770.2 889.5,771.1 893.5,771.5 897.5,771.7 901.5,771.8 905.5,772.6 909.5,774.0 913.5,775.9 917.5,778.7 921.5,781.5 925.5,784.0 929.5,786.0 933.5,787.6 937.5,788.4 941.5,788.1 945.5,787.1 949.5,785.0 953.5,781.8 957.5,778.6 961.5,776.0 965.5,773.5 969.5,771.2 973.5,769.2 977.5,767.7 981.5,766.2 985.5,765.6 989.5,765.5 993.5,766.3 997.5,767.3 1001.5,769.0 1005.5,770.9 1009.5,773.3 1013.5,775.6 1017.5,777.7 1021.5,778.9 1025.5,779.9 1029.5,779.9 1033.5,779.2 1037.5,778.2 1041.5,776.7 1045.5,774.2 1049.5,770.9 1053.5,767.3 1057.5,763.9 1061.5,760.5 1065.5,756.9 1069.5,752.6 1073.5,747.3 1077.5,741.6 1081.5,736.0 1085.5,730.9 1089.5,726.4 1093.5,722.5 1097.5,719.4 1101.5,717.2 1105.5,716.1 1109.5,715.9 1113.5,716.5 1117.5,717.2 1121.5,717.8 1125.5,718.2 1129.5,718.3 1133.5,718.9 1137.5,719.6 1141.5,721.0 1145.5,723.3 1149.5,726.2 1153.5,729.8 1157.5,734.3 1161.5,739.3 1165.5,744.7 1169.5,749.1 1173.5,752.7 1177.5,755.2 1181.5,756.7 1185.5,757.3 1189.5,757.3 1193.5,757.0 1197.5,756.5 1201.5,755.9 1205.5,755.7 1209.5,756.0 1213.5,756.8 1217.5,757.6 1221.5,758.6 1225.5,759.3 1229.5,759.3 1233.5,758.6 1237.5,757.2 1241.5,755.7 1245.5,753.8 1249.5,751.8 1253.5,749.5 1257.5,747.2 1261.5,744.9 1265.5,742.7 1269.5,740.7 1273.5,738.9 1277.5,736.5 1281.5,734.2 1285.5,732.1 1289.5,730.7 1293.5,729.9 1297.5,729.7 1301.5,730.2 1305.5,731.0 1309.5,732.2 1313.5,733.3 1317.5,733.8 1321.5,733.5 1325.5,732.2 1329.5,730.1 1333.5,727.6 1337.5,725.2" fill="none" stroke="#ff0000" stroke-width="1" stroke-dasharray="3,3" shape-rendering="crispEdges"/>
<text x="5" y="711" font-size="10" fill="#000" stroke="#000" stroke-width="0.3" textLength="148" lengthAdjust="spacingAndGlyphs" >MACD(12,26,9) 0.003203 0.002188</text>
<text x="1685.5" y="709" font-size="9.8" fill="#000" stroke="#000" stroke-width="0.3" textLength="33.5" lengthAdjust="spacingAndGlyphs" >0.00463</text>
<text x="1685.5" y="750.8" font-size="9.8" fill="#000" stroke="#000" stroke-width="0.3" textLength="18" lengthAdjust="spacingAndGlyphs" >0.00</text>
<text x="1685" y="797.8" font-size="9.8" fill="#000" stroke="#000" stroke-width="0.3" textLength="36" lengthAdjust="spacingAndGlyphs" >-0.00529</text>
<g shape-rendering="crispEdges">
<rect x="1682" y="700" width="2" height="1" fill="#000" />
<rect x="1682" y="747" width="2" height="1" fill="#000" />
<rect x="1682" y="800" width="2" height="1" fill="#000" />
</g>
<g shape-rendering="crispEdges">
<rect x="1" y="802" width="1" height="3" fill="#000" />
<rect x="65" y="802" width="1" height="3" fill="#000" />
<rect x="129" y="802" width="1" height="3" fill="#000" />
<rect x="193" y="802" width="1" height="3" fill="#000" />
<rect x="257" y="802" width="1" height="3" fill="#000" />
<rect x="321" y="802" width="1" height="3" fill="#000" />
<rect x="385" y="802" width="1" height="3" fill="#000" />
<rect x="449" y="802" width="1" height="3" fill="#000" />
<rect x="513" y="802" width="1" height="3" fill="#000" />
<rect x="577" y="802" width="1" height="3" fill="#000" />
<rect x="641" y="802" width="1" height="3" fill="#000" />
<rect x="705" y="802" width="1" height="3" fill="#000" />
<rect x="769" y="802" width="1" height="3" fill="#000" />
<rect x="833" y="802" width="1" height="3" fill="#000" />
<rect x="897" y="802" width="1" height="3" fill="#000" />
<rect x="961" y="802" width="1" height="3" fill="#000" />
<rect x="1025" y="802" width="1" height="3" fill="#000" />
<rect x="1089" y="802" width="1" height="3" fill="#000" />
<rect x="1153" y="802" width="1" height="3" fill="#000" />
<rect x="1217" y="802" width="1" height="3" fill="#000" />
<rect x="1281" y="802" width="1" height="3" fill="#000" />
</g>
<text x="1" y="814" font-size="10" fill="#000" stroke="#000" stroke-width="0.3" textLength="51.3" lengthAdjust="spacingAndGlyphs" >10 Dec 2018</text>
<text x="65" y="814" font-size="10" fill="#000" stroke="#000" stroke-width="0.3" textLength="51.3" lengthAdjust="spacingAndGlyphs" >28 Dec 2018</text>
<text x="129" y="814" font-size="10" fill="#000" stroke="#000" stroke-width="0.3" textLength="49.8" lengthAdjust="spacingAndGlyphs" >16 Jan 2019</text>
<text x="193" y="814" font-size="10" fill="#000" stroke="#000" stroke-width="0.3" textLength="45.8" lengthAdjust="spacingAndGlyphs" >4 Feb 2019</text>
<text x="257" y="814" font-size="10" fill="#000" stroke="#000" stroke-width="0.3" textLength="50.8" lengthAdjust="spacingAndGlyphs" >22 Feb 2019</text>
<text x="321" y="814" font-size="10" fill="#000" stroke="#000" stroke-width="0.3" textLength="50.8" lengthAdjust="spacingAndGlyphs" >13 Mar 2019</text>
<text x="385" y="814" font-size="10" fill="#000" stroke="#000" stroke-width="0.3" textLength="43.8" lengthAdjust="spacingAndGlyphs" >1 Apr 2019</text>
<text x="449" y="814" font-size="10" fill="#000" stroke="#000" stroke-width="0.3" textLength="48.8" lengthAdjust="spacingAndGlyphs" >19 Apr 2019</text>
<text x="513" y="814" font-size="10" fill="#000" stroke="#000" stroke-width="0.3" textLength="47.3" lengthAdjust="spacingAndGlyphs" >8 May 2019</text>
<text x="577" y="814" font-size="10" fill="#000" stroke="#000" stroke-width="0.3" textLength="52.3" lengthAdjust="spacingAndGlyphs" >27 May 2019</text>
<text x="641" y="814" font-size="10" fill="#000" stroke="#000" stroke-width="0.3" textLength="49.8" lengthAdjust="spacingAndGlyphs" >14 Jun 2019</text>
<text x="705" y="814" font-size="10" fill="#000" stroke="#000" stroke-width="0.3" textLength="41.8" lengthAdjust="spacingAndGlyphs" >3 Jul 2019</text>
<text x="769" y="814" font-size="10" fill="#000" stroke="#000" stroke-width="0.3" textLength="46.8" lengthAdjust="spacingAndGlyphs" >22 Jul 2019</text>
<text x="833" y="814" font-size="10" fill="#000" stroke="#000" stroke-width="0.3" textLength="45.8" lengthAdjust="spacingAndGlyphs" >9 Aug 2019</text>
<text x="897" y="814" font-size="10" fill="#000" stroke="#000" stroke-width="0.3" textLength="50.8" lengthAdjust="spacingAndGlyphs" >28 Aug 2019</text>
<text x="961" y="814" font-size="10" fill="#000" stroke="#000" stroke-width="0.3" textLength="51.3" lengthAdjust="spacingAndGlyphs" >16 Sep 2019</text>
<text x="1025" y="814" font-size="10" fill="#000" stroke="#000" stroke-width="0.3" textLength="44.3" lengthAdjust="spacingAndGlyphs" >4 Oct 2019</text>
<text x="1089" y="814" font-size="10" fill="#000" stroke="#000" stroke-width="0.3" textLength="49.3" lengthAdjust="spacingAndGlyphs" >23 Oct 2019</text>
<text x="1153" y="814" font-size="10" fill="#000" stroke="#000" stroke-width="0.3" textLength="50.6" lengthAdjust="spacingAndGlyphs" >11 Nov 2019</text>
<text x="1217" y="814" font-size="10" fill="#000" stroke="#000" stroke-width="0.3" textLength="51.3" lengthAdjust="spacingAndGlyphs" >29 Nov 2019</text>
<text x="1281" y="814" font-size="10" fill="#000" stroke="#000" stroke-width="0.3" textLength="51.3" lengthAdjust="spacingAndGlyphs" >18 Dec 2019</text>
<rect x="0" y="822" width="1721" height="1" fill="#e3e3e3" />
<rect x="0" y="823" width="1721" height="19" fill="#ffffff" />
<rect x="0" y="824" width="1721" height="18" fill="#f0f0f0" />
<rect x="0" y="824" width="3" height="1" fill="#000" />
<rect x="2" y="824" width="1" height="18" fill="#000" />
<rect x="3" y="823" width="102" height="19" fill="#ffffff" />
<rect x="105" y="824" width="1616" height="1" fill="#000" />
<rect x="105" y="824" width="1" height="18" fill="#000" />
<text x="14.3" y="839" font-size="12" fill="#000" stroke="#000" stroke-width="0.1" textLength="79.7" lengthAdjust="spacingAndGlyphs" >EURUSD,Daily</text>
<text x="116" y="839" font-size="12" fill="#6d6d6d" textLength="79" lengthAdjust="spacingAndGlyphs" >USDCHF,Daily</text>
<rect x="206" y="827" width="1" height="13" fill="#6d6d6d" />
<text x="217.5" y="839" font-size="12" fill="#6d6d6d" textLength="81.5" lengthAdjust="spacingAndGlyphs" >AUDUSD,Daily</text>
<rect x="310" y="827" width="1" height="13" fill="#6d6d6d" />
<text x="321" y="839" font-size="12" fill="#6d6d6d" textLength="81.5" lengthAdjust="spacingAndGlyphs" >USDCAD,Daily</text>
<rect x="414" y="827" width="1" height="13" fill="#6d6d6d" />
<text x="424.5" y="839" font-size="12" fill="#6d6d6d" textLength="83.0" lengthAdjust="spacingAndGlyphs" >USDCNH,Daily</text>
<rect x="518" y="827" width="1" height="13" fill="#6d6d6d" />
<path d="M1700.5 829.5L1696.5 833L1700.5 836.5Z" fill="#9a9a9a"/>
<path d="M1716 829.5L1720 833L1716 836.5Z" fill="#9a9a9a"/>
</svg>
</body></html>
